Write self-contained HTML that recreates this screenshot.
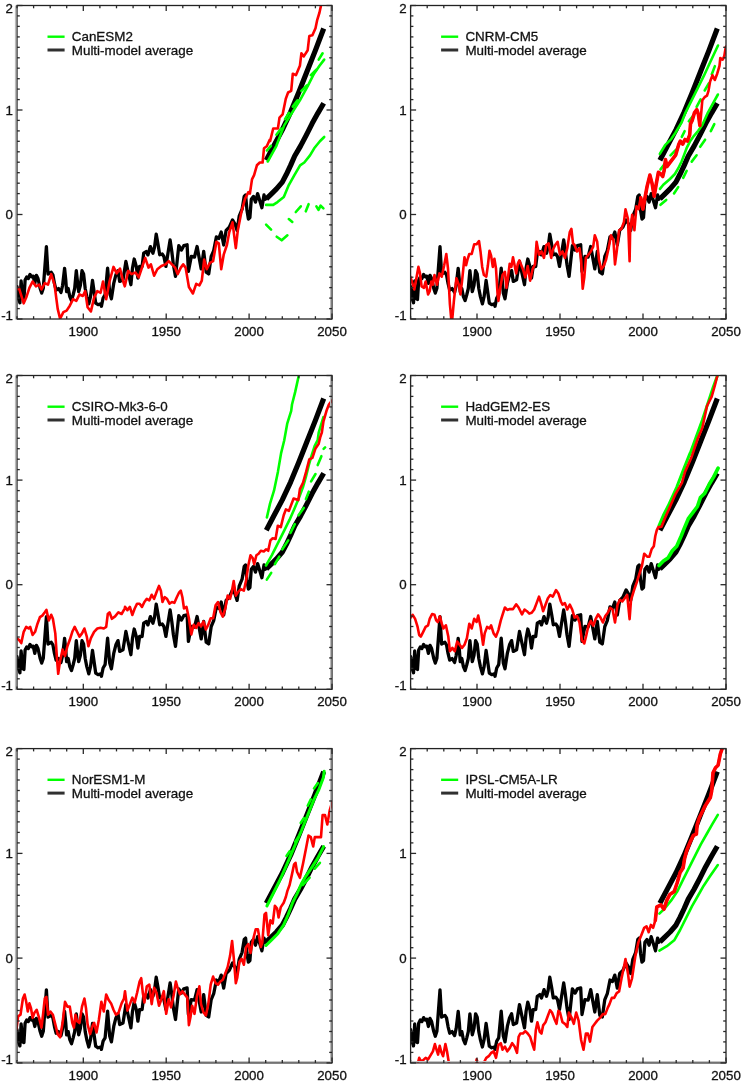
<!DOCTYPE html>
<html><head><meta charset="utf-8"><style>
html,body{margin:0;padding:0;background:#fff;width:742px;height:1084px;overflow:hidden}
svg{display:block;filter:blur(0.45px)}
.t{font-family:"Liberation Sans", sans-serif;font-size:13.3px;fill:#111;stroke:#111;stroke-width:0.3px}
.l{font-family:"Liberation Sans", sans-serif;font-size:13.4px;fill:#111;stroke:#111;stroke-width:0.3px}
</style></head><body>
<svg width="742" height="1084" viewBox="0 0 742 1084">
<rect width="742" height="1084" fill="#fff"/>
<clipPath id="cp0"><rect x="17.0" y="5.5" width="315.0" height="313.5"/></clipPath>
<g clip-path="url(#cp0)">
<polyline points="17.0,286.6 18.6,298.7 19.9,302.8 21.1,280.9 22.7,298.7 23.9,299.5 25.1,280.1 26.7,276.9 28.3,278.5 30.0,274.5 31.6,276.9 33.2,276.1 34.8,283.4 36.4,275.3 38.0,278.5 40.1,288.2 41.7,293.1 43.3,288.2 46.4,246.7 48.0,274.0 51.3,272.3 52.9,274.8 54.5,283.7 56.1,290.1 58.5,288.5 61.0,292.5 62.6,285.3 64.6,268.3 65.8,280.4 66.6,291.7 68.2,288.5 69.8,296.6 71.5,300.6 73.1,295.0 74.7,288.5 76.3,270.7 77.5,282.0 78.7,291.7 80.4,285.3 82.0,270.7 83.6,274.0 85.2,288.5 86.8,296.6 88.8,303.9 90.5,296.6 92.5,280.4 95.7,303.1 98.1,304.7 100.6,303.9 101.4,306.3 103.1,298.0 105.1,294.7 107.6,268.1 109.7,293.0 111.4,298.8 113.8,283.1 115.9,274.8 118.0,270.6 119.7,281.4 123.0,279.8 125.9,261.5 128.0,271.5 130.9,284.7 132.5,268.1 134.2,259.0 136.3,266.5 137.9,278.1 139.6,266.5 142.1,266.5 143.7,253.2 146.2,251.5 147.9,254.9 150.4,246.6 152.9,253.2 154.5,247.4 156.2,234.1 158.1,244.8 159.7,254.8 162.2,254.0 163.9,256.5 165.9,266.4 168.0,253.1 170.1,239.9 171.8,251.5 173.4,264.8 175.5,276.4 177.1,261.4 178.8,245.7 181.5,250.0 183.8,245.7 187.1,244.8 188.4,271.4 191.3,256.5 194.5,257.0 197.1,246.5 201.2,268.9 203.7,251.5 206.2,272.2 208.7,273.9 211.2,256.5 213.7,250.6 216.4,236.9 218.8,238.5 221.2,232.0 223.7,245.0 226.1,230.4 229.3,227.2 232.5,219.9 235.0,224.0 237.1,230.4 239.2,216.2 242.1,209.2 244.2,196.4 245.6,195.0 247.0,210.6 248.4,219.1 249.9,217.6 251.3,199.2 253.4,196.4 255.5,202.1 257.6,193.6 259.8,200.7 261.9,207.7 264.0,195.0 265.4,199.2" fill="none" stroke="#000" stroke-width="3.3" stroke-linejoin="round" stroke-linecap="round"/>
<polyline points="266.3,160.2 274.0,145.5 282.3,129.9 290.6,112.1 298.8,92.2 307.1,71.3 315.4,50.4 323.7,28.5" fill="none" stroke="#000" stroke-width="5.2" stroke-linejoin="round" stroke-linecap="butt"/>
<polyline points="266.3,198.8 270.7,194.6 276.5,188.9 282.3,182.1 286.4,174.3 290.6,165.4 294.7,156.0 300.5,146.1 306.3,135.1 312.1,123.6 317.9,113.1 323.7,103.2" fill="none" stroke="#000" stroke-width="5.2" stroke-linejoin="round" stroke-linecap="butt"/>
<polyline points="266.9,150.5 270.9,145.8" fill="none" stroke="#00ff00" stroke-width="2.6" stroke-linejoin="round" stroke-linecap="round"/>
<polyline points="276.4,134.8 281.1,128.5" fill="none" stroke="#00ff00" stroke-width="2.6" stroke-linejoin="round" stroke-linecap="round"/>
<polyline points="285.0,119.1 288.9,112.9" fill="none" stroke="#00ff00" stroke-width="2.6" stroke-linejoin="round" stroke-linecap="round"/>
<polyline points="292.8,106.6 297.5,100.3" fill="none" stroke="#00ff00" stroke-width="2.6" stroke-linejoin="round" stroke-linecap="round"/>
<polyline points="301.4,90.9 306.9,85.4" fill="none" stroke="#00ff00" stroke-width="2.6" stroke-linejoin="round" stroke-linecap="round"/>
<polyline points="310.8,75.2 316.3,69.8" fill="none" stroke="#00ff00" stroke-width="2.6" stroke-linejoin="round" stroke-linecap="round"/>
<polyline points="318.7,59.6 322.6,53.3" fill="none" stroke="#00ff00" stroke-width="2.6" stroke-linejoin="round" stroke-linecap="round"/>
<polyline points="266.1,224.7 271.1,229.7" fill="none" stroke="#00ff00" stroke-width="2.6" stroke-linejoin="round" stroke-linecap="round"/>
<polyline points="276.7,236.7 281.7,240.3 287.4,235.3" fill="none" stroke="#00ff00" stroke-width="2.6" stroke-linejoin="round" stroke-linecap="round"/>
<polyline points="288.8,219.1 292.3,221.9" fill="none" stroke="#00ff00" stroke-width="2.6" stroke-linejoin="round" stroke-linecap="round"/>
<polyline points="295.8,212.0 300.8,206.3" fill="none" stroke="#00ff00" stroke-width="2.6" stroke-linejoin="round" stroke-linecap="round"/>
<polyline points="305.8,211.3 308.6,204.2" fill="none" stroke="#00ff00" stroke-width="2.6" stroke-linejoin="round" stroke-linecap="round"/>
<polyline points="316.4,206.3 318.5,209.9 320.6,205.6 323.4,208.4" fill="none" stroke="#00ff00" stroke-width="2.6" stroke-linejoin="round" stroke-linecap="round"/>
<polyline points="266.1,204.9 273.2,204.9 277.5,202.1 283.8,197.1 288.8,185.1 294.4,175.2 300.1,165.3 304.3,162.5 310.0,155.4 314.2,148.3 319.9,141.2 324.2,137.0" fill="none" stroke="#00ff00" stroke-width="2.6" stroke-linejoin="round" stroke-linecap="round"/>
<polyline points="267.7,161.5 276.4,145.8 284.2,125.4 292.0,112.9 299.9,100.3 307.7,86.2 314.0,73.7 319.5,65.8 324.2,59.6" fill="none" stroke="#00ff00" stroke-width="2.6" stroke-linejoin="round" stroke-linecap="round"/>
<polyline points="16.5,289.5 18.9,287.9 23.7,303.3 26.2,297.6 29.4,287.9 32.6,281.5 35.9,286.3 39.1,284.7 41.5,289.5 44.8,283.1 48.0,284.7 51.2,274.2 54.5,284.7 57.7,308.9 60.1,318.7 63.4,312.2 66.6,310.6 69.8,305.7 73.1,299.2 76.3,300.9 79.5,294.4 82.8,296.0 85.2,291.2 87.6,307.3 90.9,311.4 94.1,297.6 97.3,291.2 100.6,292.8 103.0,281.5 106.2,299.2 109.5,281.5 113.5,266.9 116.7,273.4 120.0,268.5 123.2,281.5 124.8,286.3 125.0,285.4 128.2,270.9 131.5,274.1 135.5,272.5 138.7,277.3 142.0,267.6 145.2,257.9 148.5,267.6 150.9,264.4 154.1,275.7 157.3,269.2 161.4,266.0 165.4,264.4 168.7,261.2 171.9,264.4 175.1,267.6 177.6,274.1 180.8,267.6 183.2,264.4 185.6,267.6 188.9,287.0 192.9,293.5 196.2,283.8 199.4,285.4 201.8,280.6 204.2,259.5 206.7,269.2 209.9,262.8 213.1,261.2 216.4,241.8 218.8,243.4 221.2,269.2 223.7,254.7 226.9,245.0 229.3,232.0 232.5,222.3 235.8,248.2 237.8,230.4 241.4,212.0 244.9,199.2 248.4,192.2 249.9,193.6 252.0,179.4 254.1,175.2 256.9,165.3 259.8,162.5 262.6,162.5 264.0,148.3 266.8,146.2 269.7,139.8 270.1,141.1 273.2,128.5 277.9,128.5 279.5,117.6 282.6,114.4 285.8,98.8 288.1,92.5 291.2,90.9 292.8,73.7 295.9,75.2 299.9,65.8 301.4,53.3 303.8,56.4 307.7,50.2 309.3,36.1 312.4,35.3 315.5,28.2 317.1,20.4 319.5,12.5 321.0,5.5 321.8,0.0" fill="none" stroke="#ff0000" stroke-width="2.6" stroke-linejoin="round" stroke-linecap="round"/>
</g>
<rect x="17.0" y="5.5" width="315.0" height="313.5" fill="none" stroke="#222" stroke-width="1.3"/>
<line x1="15.6" y1="5.5" x2="15.6" y2="319.6" stroke="#bbb" stroke-width="1.4"/>
<line x1="330.6" y1="5.5" x2="330.6" y2="319.0" stroke="#bbb" stroke-width="1.2"/>
<line x1="17.0" y1="319.0" x2="22.5" y2="319.0" stroke="#282828" stroke-width="1.3"/>
<line x1="332.0" y1="319.0" x2="326.5" y2="319.0" stroke="#282828" stroke-width="1.3"/>
<line x1="17.0" y1="308.6" x2="19.8" y2="308.6" stroke="#282828" stroke-width="1.3"/>
<line x1="332.0" y1="308.6" x2="329.2" y2="308.6" stroke="#282828" stroke-width="1.3"/>
<line x1="17.0" y1="298.1" x2="19.8" y2="298.1" stroke="#282828" stroke-width="1.3"/>
<line x1="332.0" y1="298.1" x2="329.2" y2="298.1" stroke="#282828" stroke-width="1.3"/>
<line x1="17.0" y1="287.6" x2="19.8" y2="287.6" stroke="#282828" stroke-width="1.3"/>
<line x1="332.0" y1="287.6" x2="329.2" y2="287.6" stroke="#282828" stroke-width="1.3"/>
<line x1="17.0" y1="277.2" x2="19.8" y2="277.2" stroke="#282828" stroke-width="1.3"/>
<line x1="332.0" y1="277.2" x2="329.2" y2="277.2" stroke="#282828" stroke-width="1.3"/>
<line x1="17.0" y1="266.8" x2="19.8" y2="266.8" stroke="#282828" stroke-width="1.3"/>
<line x1="332.0" y1="266.8" x2="329.2" y2="266.8" stroke="#282828" stroke-width="1.3"/>
<line x1="17.0" y1="256.3" x2="19.8" y2="256.3" stroke="#282828" stroke-width="1.3"/>
<line x1="332.0" y1="256.3" x2="329.2" y2="256.3" stroke="#282828" stroke-width="1.3"/>
<line x1="17.0" y1="245.8" x2="19.8" y2="245.8" stroke="#282828" stroke-width="1.3"/>
<line x1="332.0" y1="245.8" x2="329.2" y2="245.8" stroke="#282828" stroke-width="1.3"/>
<line x1="17.0" y1="235.4" x2="19.8" y2="235.4" stroke="#282828" stroke-width="1.3"/>
<line x1="332.0" y1="235.4" x2="329.2" y2="235.4" stroke="#282828" stroke-width="1.3"/>
<line x1="17.0" y1="224.9" x2="19.8" y2="224.9" stroke="#282828" stroke-width="1.3"/>
<line x1="332.0" y1="224.9" x2="329.2" y2="224.9" stroke="#282828" stroke-width="1.3"/>
<line x1="17.0" y1="214.5" x2="22.5" y2="214.5" stroke="#282828" stroke-width="1.3"/>
<line x1="332.0" y1="214.5" x2="326.5" y2="214.5" stroke="#282828" stroke-width="1.3"/>
<line x1="17.0" y1="204.1" x2="19.8" y2="204.1" stroke="#282828" stroke-width="1.3"/>
<line x1="332.0" y1="204.1" x2="329.2" y2="204.1" stroke="#282828" stroke-width="1.3"/>
<line x1="17.0" y1="193.6" x2="19.8" y2="193.6" stroke="#282828" stroke-width="1.3"/>
<line x1="332.0" y1="193.6" x2="329.2" y2="193.6" stroke="#282828" stroke-width="1.3"/>
<line x1="17.0" y1="183.2" x2="19.8" y2="183.2" stroke="#282828" stroke-width="1.3"/>
<line x1="332.0" y1="183.2" x2="329.2" y2="183.2" stroke="#282828" stroke-width="1.3"/>
<line x1="17.0" y1="172.7" x2="19.8" y2="172.7" stroke="#282828" stroke-width="1.3"/>
<line x1="332.0" y1="172.7" x2="329.2" y2="172.7" stroke="#282828" stroke-width="1.3"/>
<line x1="17.0" y1="162.2" x2="19.8" y2="162.2" stroke="#282828" stroke-width="1.3"/>
<line x1="332.0" y1="162.2" x2="329.2" y2="162.2" stroke="#282828" stroke-width="1.3"/>
<line x1="17.0" y1="151.8" x2="19.8" y2="151.8" stroke="#282828" stroke-width="1.3"/>
<line x1="332.0" y1="151.8" x2="329.2" y2="151.8" stroke="#282828" stroke-width="1.3"/>
<line x1="17.0" y1="141.3" x2="19.8" y2="141.3" stroke="#282828" stroke-width="1.3"/>
<line x1="332.0" y1="141.3" x2="329.2" y2="141.3" stroke="#282828" stroke-width="1.3"/>
<line x1="17.0" y1="130.9" x2="19.8" y2="130.9" stroke="#282828" stroke-width="1.3"/>
<line x1="332.0" y1="130.9" x2="329.2" y2="130.9" stroke="#282828" stroke-width="1.3"/>
<line x1="17.0" y1="120.4" x2="19.8" y2="120.4" stroke="#282828" stroke-width="1.3"/>
<line x1="332.0" y1="120.4" x2="329.2" y2="120.4" stroke="#282828" stroke-width="1.3"/>
<line x1="17.0" y1="110.0" x2="22.5" y2="110.0" stroke="#282828" stroke-width="1.3"/>
<line x1="332.0" y1="110.0" x2="326.5" y2="110.0" stroke="#282828" stroke-width="1.3"/>
<line x1="17.0" y1="99.6" x2="19.8" y2="99.6" stroke="#282828" stroke-width="1.3"/>
<line x1="332.0" y1="99.6" x2="329.2" y2="99.6" stroke="#282828" stroke-width="1.3"/>
<line x1="17.0" y1="89.1" x2="19.8" y2="89.1" stroke="#282828" stroke-width="1.3"/>
<line x1="332.0" y1="89.1" x2="329.2" y2="89.1" stroke="#282828" stroke-width="1.3"/>
<line x1="17.0" y1="78.7" x2="19.8" y2="78.7" stroke="#282828" stroke-width="1.3"/>
<line x1="332.0" y1="78.7" x2="329.2" y2="78.7" stroke="#282828" stroke-width="1.3"/>
<line x1="17.0" y1="68.2" x2="19.8" y2="68.2" stroke="#282828" stroke-width="1.3"/>
<line x1="332.0" y1="68.2" x2="329.2" y2="68.2" stroke="#282828" stroke-width="1.3"/>
<line x1="17.0" y1="57.8" x2="19.8" y2="57.8" stroke="#282828" stroke-width="1.3"/>
<line x1="332.0" y1="57.8" x2="329.2" y2="57.8" stroke="#282828" stroke-width="1.3"/>
<line x1="17.0" y1="47.3" x2="19.8" y2="47.3" stroke="#282828" stroke-width="1.3"/>
<line x1="332.0" y1="47.3" x2="329.2" y2="47.3" stroke="#282828" stroke-width="1.3"/>
<line x1="17.0" y1="36.9" x2="19.8" y2="36.9" stroke="#282828" stroke-width="1.3"/>
<line x1="332.0" y1="36.9" x2="329.2" y2="36.9" stroke="#282828" stroke-width="1.3"/>
<line x1="17.0" y1="26.4" x2="19.8" y2="26.4" stroke="#282828" stroke-width="1.3"/>
<line x1="332.0" y1="26.4" x2="329.2" y2="26.4" stroke="#282828" stroke-width="1.3"/>
<line x1="17.0" y1="15.9" x2="19.8" y2="15.9" stroke="#282828" stroke-width="1.3"/>
<line x1="332.0" y1="15.9" x2="329.2" y2="15.9" stroke="#282828" stroke-width="1.3"/>
<line x1="17.0" y1="5.5" x2="22.5" y2="5.5" stroke="#282828" stroke-width="1.3"/>
<line x1="332.0" y1="5.5" x2="326.5" y2="5.5" stroke="#282828" stroke-width="1.3"/>
<line x1="17.0" y1="319.0" x2="17.0" y2="316.2" stroke="#282828" stroke-width="1.3"/>
<line x1="17.0" y1="5.5" x2="17.0" y2="8.3" stroke="#282828" stroke-width="1.3"/>
<line x1="33.6" y1="319.0" x2="33.6" y2="316.2" stroke="#282828" stroke-width="1.3"/>
<line x1="33.6" y1="5.5" x2="33.6" y2="8.3" stroke="#282828" stroke-width="1.3"/>
<line x1="50.2" y1="319.0" x2="50.2" y2="316.2" stroke="#282828" stroke-width="1.3"/>
<line x1="50.2" y1="5.5" x2="50.2" y2="8.3" stroke="#282828" stroke-width="1.3"/>
<line x1="66.7" y1="319.0" x2="66.7" y2="316.2" stroke="#282828" stroke-width="1.3"/>
<line x1="66.7" y1="5.5" x2="66.7" y2="8.3" stroke="#282828" stroke-width="1.3"/>
<line x1="83.3" y1="319.0" x2="83.3" y2="313.5" stroke="#282828" stroke-width="1.3"/>
<line x1="83.3" y1="5.5" x2="83.3" y2="11.0" stroke="#282828" stroke-width="1.3"/>
<line x1="99.9" y1="319.0" x2="99.9" y2="316.2" stroke="#282828" stroke-width="1.3"/>
<line x1="99.9" y1="5.5" x2="99.9" y2="8.3" stroke="#282828" stroke-width="1.3"/>
<line x1="116.5" y1="319.0" x2="116.5" y2="316.2" stroke="#282828" stroke-width="1.3"/>
<line x1="116.5" y1="5.5" x2="116.5" y2="8.3" stroke="#282828" stroke-width="1.3"/>
<line x1="133.1" y1="319.0" x2="133.1" y2="316.2" stroke="#282828" stroke-width="1.3"/>
<line x1="133.1" y1="5.5" x2="133.1" y2="8.3" stroke="#282828" stroke-width="1.3"/>
<line x1="149.6" y1="319.0" x2="149.6" y2="316.2" stroke="#282828" stroke-width="1.3"/>
<line x1="149.6" y1="5.5" x2="149.6" y2="8.3" stroke="#282828" stroke-width="1.3"/>
<line x1="166.2" y1="319.0" x2="166.2" y2="313.5" stroke="#282828" stroke-width="1.3"/>
<line x1="166.2" y1="5.5" x2="166.2" y2="11.0" stroke="#282828" stroke-width="1.3"/>
<line x1="182.8" y1="319.0" x2="182.8" y2="316.2" stroke="#282828" stroke-width="1.3"/>
<line x1="182.8" y1="5.5" x2="182.8" y2="8.3" stroke="#282828" stroke-width="1.3"/>
<line x1="199.4" y1="319.0" x2="199.4" y2="316.2" stroke="#282828" stroke-width="1.3"/>
<line x1="199.4" y1="5.5" x2="199.4" y2="8.3" stroke="#282828" stroke-width="1.3"/>
<line x1="215.9" y1="319.0" x2="215.9" y2="316.2" stroke="#282828" stroke-width="1.3"/>
<line x1="215.9" y1="5.5" x2="215.9" y2="8.3" stroke="#282828" stroke-width="1.3"/>
<line x1="232.5" y1="319.0" x2="232.5" y2="316.2" stroke="#282828" stroke-width="1.3"/>
<line x1="232.5" y1="5.5" x2="232.5" y2="8.3" stroke="#282828" stroke-width="1.3"/>
<line x1="249.1" y1="319.0" x2="249.1" y2="313.5" stroke="#282828" stroke-width="1.3"/>
<line x1="249.1" y1="5.5" x2="249.1" y2="11.0" stroke="#282828" stroke-width="1.3"/>
<line x1="265.7" y1="319.0" x2="265.7" y2="316.2" stroke="#282828" stroke-width="1.3"/>
<line x1="265.7" y1="5.5" x2="265.7" y2="8.3" stroke="#282828" stroke-width="1.3"/>
<line x1="282.3" y1="319.0" x2="282.3" y2="316.2" stroke="#282828" stroke-width="1.3"/>
<line x1="282.3" y1="5.5" x2="282.3" y2="8.3" stroke="#282828" stroke-width="1.3"/>
<line x1="298.8" y1="319.0" x2="298.8" y2="316.2" stroke="#282828" stroke-width="1.3"/>
<line x1="298.8" y1="5.5" x2="298.8" y2="8.3" stroke="#282828" stroke-width="1.3"/>
<line x1="315.4" y1="319.0" x2="315.4" y2="316.2" stroke="#282828" stroke-width="1.3"/>
<line x1="315.4" y1="5.5" x2="315.4" y2="8.3" stroke="#282828" stroke-width="1.3"/>
<line x1="332.0" y1="319.0" x2="332.0" y2="313.5" stroke="#282828" stroke-width="1.3"/>
<line x1="332.0" y1="5.5" x2="332.0" y2="11.0" stroke="#282828" stroke-width="1.3"/>
<text x="83.3" y="335.7" text-anchor="middle" class="t">1900</text>
<text x="166.2" y="335.7" text-anchor="middle" class="t">1950</text>
<text x="249.1" y="335.7" text-anchor="middle" class="t">2000</text>
<text x="332.0" y="335.7" text-anchor="middle" class="t">2050</text>
<text x="13.0" y="12.6" text-anchor="end" class="t">2</text>
<text x="13.0" y="114.6" text-anchor="end" class="t">1</text>
<text x="13.0" y="219.1" text-anchor="end" class="t">0</text>
<text x="13.0" y="319.6" text-anchor="end" class="t">-1</text>
<line x1="47.5" y1="36.7" x2="64.6" y2="36.7" stroke="#00ff00" stroke-width="2.4"/>
<line x1="47.5" y1="50.0" x2="64.6" y2="50.0" stroke="#303030" stroke-width="3"/>
<text x="71.8" y="41.2" class="l">CanESM2</text>
<text x="71.8" y="54.7" class="l">Multi-model average</text>
<clipPath id="cp1"><rect x="410.6" y="5.5" width="315.4" height="313.5"/></clipPath>
<g clip-path="url(#cp1)">
<polyline points="410.6,286.6 412.2,298.7 413.5,302.8 414.7,280.9 416.3,298.7 417.5,299.5 418.7,280.1 420.3,276.9 421.9,278.5 423.6,274.5 425.2,276.9 426.8,276.1 428.4,283.4 430.0,275.3 431.6,278.5 433.7,288.2 435.3,293.1 436.9,288.2 440.0,246.7 441.6,274.0 444.9,272.3 446.5,274.8 448.1,283.7 449.7,290.1 452.1,288.5 454.6,292.5 456.2,285.3 458.2,268.3 459.4,280.4 460.2,291.7 461.8,288.5 463.4,296.6 465.1,300.6 466.7,295.0 468.3,288.5 469.9,270.7 471.1,282.0 472.3,291.7 474.0,285.3 475.6,270.7 477.2,274.0 478.8,288.5 480.4,296.6 482.4,303.9 484.1,296.6 486.1,280.4 489.3,303.1 491.7,304.7 494.2,303.9 495.0,306.3 496.7,298.0 498.7,294.7 501.2,268.1 503.3,293.0 505.0,298.8 507.4,283.1 509.5,274.8 511.6,270.6 513.3,281.4 516.6,279.8 519.5,261.5 521.6,271.5 524.5,284.7 526.1,268.1 527.8,259.0 529.9,266.5 531.5,278.1 533.2,266.5 535.7,266.5 537.3,253.2 539.8,251.5 541.5,254.9 544.0,246.6 546.5,253.2 548.1,247.4 549.8,234.1 551.7,244.8 553.3,254.8 555.8,254.0 557.5,256.5 559.5,266.4 561.6,253.1 563.7,239.9 565.4,251.5 567.0,264.8 569.1,276.4 570.7,261.4 572.4,245.7 575.1,250.0 577.4,245.7 580.7,244.8 582.0,271.4 584.9,256.5 588.1,257.0 590.7,246.5 594.8,268.9 597.3,251.5 599.8,272.2 602.3,273.9 604.8,256.5 607.3,250.6 610.0,236.9 612.4,238.5 614.8,232.0 617.3,245.0 619.7,230.4 622.9,227.2 626.1,219.9 628.6,224.0 630.7,230.4 632.8,216.2 635.7,209.2 637.8,196.4 639.2,195.0 640.6,210.6 642.0,219.1 643.5,217.6 644.9,199.2 647.0,196.4 649.1,202.1 651.2,193.6 653.4,200.7 655.5,207.7 657.6,195.0 659.0,199.2" fill="none" stroke="#000" stroke-width="3.3" stroke-linejoin="round" stroke-linecap="round"/>
<polyline points="659.9,160.2 667.6,145.5 675.9,129.9 684.2,112.1 692.4,92.2 700.7,71.3 709.0,50.4 717.3,28.5" fill="none" stroke="#000" stroke-width="5.2" stroke-linejoin="round" stroke-linecap="butt"/>
<polyline points="659.9,198.8 664.3,194.6 670.1,188.9 675.9,182.1 680.0,174.3 684.2,165.4 688.3,156.0 694.1,146.1 699.9,135.1 705.7,123.6 711.5,113.1 717.3,103.2" fill="none" stroke="#000" stroke-width="5.2" stroke-linejoin="round" stroke-linecap="butt"/>
<polyline points="660.5,169.4 664.8,163.8" fill="none" stroke="#00ff00" stroke-width="2.6" stroke-linejoin="round" stroke-linecap="round"/>
<polyline points="670.5,155.3 676.1,149.6" fill="none" stroke="#00ff00" stroke-width="2.6" stroke-linejoin="round" stroke-linecap="round"/>
<polyline points="681.8,136.9 684.6,131.2" fill="none" stroke="#00ff00" stroke-width="2.6" stroke-linejoin="round" stroke-linecap="round"/>
<polyline points="688.8,121.3 693.1,115.7" fill="none" stroke="#00ff00" stroke-width="2.6" stroke-linejoin="round" stroke-linecap="round"/>
<polyline points="696.6,106.9 700.6,99.3" fill="none" stroke="#00ff00" stroke-width="2.6" stroke-linejoin="round" stroke-linecap="round"/>
<polyline points="704.7,90.5 708.8,83.4" fill="none" stroke="#00ff00" stroke-width="2.6" stroke-linejoin="round" stroke-linecap="round"/>
<polyline points="711.8,74.2 714.9,66.1" fill="none" stroke="#00ff00" stroke-width="2.6" stroke-linejoin="round" stroke-linecap="round"/>
<polyline points="660.5,204.8 666.2,199.9" fill="none" stroke="#00ff00" stroke-width="2.6" stroke-linejoin="round" stroke-linecap="round"/>
<polyline points="674.0,193.5 678.2,187.1" fill="none" stroke="#00ff00" stroke-width="2.6" stroke-linejoin="round" stroke-linecap="round"/>
<polyline points="683.2,177.9 686.7,170.8" fill="none" stroke="#00ff00" stroke-width="2.6" stroke-linejoin="round" stroke-linecap="round"/>
<polyline points="691.7,161.6 696.6,155.3" fill="none" stroke="#00ff00" stroke-width="2.6" stroke-linejoin="round" stroke-linecap="round"/>
<polyline points="700.2,146.8 705.1,139.7" fill="none" stroke="#00ff00" stroke-width="2.6" stroke-linejoin="round" stroke-linecap="round"/>
<polyline points="710.8,131.2 714.3,124.2" fill="none" stroke="#00ff00" stroke-width="2.6" stroke-linejoin="round" stroke-linecap="round"/>
<polyline points="660.0,188.9 663.3,184.8 670.0,179.0 674.9,174.0 678.3,168.2 681.6,161.5 684.1,154.9 686.6,148.2 689.9,141.6 694.0,135.8 698.2,130.8 702.3,125.0 707.8,112.8 717.9,94.5" fill="none" stroke="#00ff00" stroke-width="2.6" stroke-linejoin="round" stroke-linecap="round"/>
<polyline points="659.8,153.9 665.1,145.2 671.2,139.1 675.3,133.0 681.4,122.9 685.4,112.8 691.5,100.6 697.6,88.4 703.7,76.2 709.8,63.0 718.0,45.5" fill="none" stroke="#00ff00" stroke-width="2.6" stroke-linejoin="round" stroke-linecap="round"/>
<polyline points="410.3,276.6 411.9,281.5 414.3,289.5 416.7,276.6 418.4,266.9 420.0,273.4 421.6,286.3 424.0,287.9 425.6,281.5 428.1,294.4 429.7,291.2 431.3,281.5 432.9,284.7 434.5,275.0 437.0,284.7 439.4,273.4 441.8,276.6 444.2,265.3 446.3,254.0 448.0,268.5 449.9,304.1 451.2,318.7 452.3,318.7 453.9,300.9 456.4,278.2 458.8,284.7 460.4,294.4 462.0,281.5 464.5,257.2 466.1,265.3 467.7,258.8 469.3,254.0 471.7,254.0 474.2,244.3 476.6,244.3 479.0,241.0 480.6,252.3 482.2,266.9 483.9,275.0 486.3,276.6 487.9,265.3 489.5,250.7 491.1,255.6 492.8,266.9 494.4,258.8 496.0,268.5 497.6,294.4 498.4,300.9 500.0,289.5 502.5,275.0 504.9,271.8 506.5,287.9 508.1,276.6 509.7,263.7 511.4,266.9 513.0,257.2 514.6,265.3 516.2,273.4 517.8,263.7 519.4,260.4 522.9,269.2 525.3,277.3 527.7,266.0 530.1,280.6 532.6,269.2 535.0,264.4 536.6,241.8 539.0,254.7 541.5,251.5 543.9,257.9 546.3,245.0 548.7,243.4 551.2,257.9 552.8,249.8 555.2,245.0 557.6,241.8 560.0,254.7 562.5,251.5 564.9,257.9 567.3,248.2 569.8,232.0 571.4,228.8 573.0,243.4 574.6,245.0 577.0,251.5 579.5,248.2 581.1,259.5 582.7,288.7 584.3,277.3 585.9,257.9 588.4,254.7 590.8,251.5 593.2,246.6 594.8,235.3 597.2,241.8 598.9,259.5 601.3,269.2 603.7,266.0 606.1,259.5 608.6,248.2 611.0,235.3 613.4,240.1 615.0,264.4 616.7,251.5 619.1,230.4 621.5,228.8 623.9,222.3 625.5,209.4 628.0,219.1 629.6,261.2 630.1,233.1 632.2,214.7 634.4,230.3 636.5,206.2 638.6,209.1 640.7,197.7 642.9,209.1 645.0,197.7 647.1,186.4 649.9,175.1 652.1,183.6 654.2,196.3 656.3,183.6 658.4,172.3 660.5,173.7 662.7,176.5 664.1,170.8 665.5,159.5 666.9,166.6 675.6,155.2 678.8,144.2 680.3,141.1 682.7,144.2 685.0,139.5 687.4,141.1 689.7,134.8 690.5,123.8 692.1,120.7 694.4,112.9 696.8,109.7 698.4,114.4 699.9,125.4 700.7,119.1 702.3,100.3 704.6,97.2 707.0,95.6 708.5,90.9 710.1,81.5 712.5,75.2 714.8,80.0 717.2,73.7 719.5,65.8 720.3,58.0 722.7,59.6 724.2,56.4 725.8,47.0 727.4,45.5" fill="none" stroke="#ff0000" stroke-width="2.6" stroke-linejoin="round" stroke-linecap="round"/>
<polyline points="640.7,197.7 642.9,209.1 645.0,197.7 647.1,186.4 649.9,175.1 652.1,183.6 654.2,196.3 656.3,183.6 658.4,172.3 660.5,173.7 662.7,176.5 664.1,170.8 665.5,159.5 666.9,166.6 675.6,155.2 678.8,144.2 680.3,141.1 682.7,144.2 685.0,139.5 687.4,141.1 689.7,134.8 690.5,123.8 692.1,120.7 694.4,112.9 696.8,109.7 698.4,114.4 699.9,125.4" fill="none" stroke="#ff0000" stroke-width="3.6" stroke-linejoin="round" stroke-linecap="round"/>
</g>
<rect x="410.6" y="5.5" width="315.4" height="313.5" fill="none" stroke="#222" stroke-width="1.3"/>
<line x1="410.6" y1="319.0" x2="416.1" y2="319.0" stroke="#282828" stroke-width="1.3"/>
<line x1="726.0" y1="319.0" x2="720.5" y2="319.0" stroke="#282828" stroke-width="1.3"/>
<line x1="410.6" y1="308.6" x2="413.40000000000003" y2="308.6" stroke="#282828" stroke-width="1.3"/>
<line x1="726.0" y1="308.6" x2="723.2" y2="308.6" stroke="#282828" stroke-width="1.3"/>
<line x1="410.6" y1="298.1" x2="413.40000000000003" y2="298.1" stroke="#282828" stroke-width="1.3"/>
<line x1="726.0" y1="298.1" x2="723.2" y2="298.1" stroke="#282828" stroke-width="1.3"/>
<line x1="410.6" y1="287.6" x2="413.40000000000003" y2="287.6" stroke="#282828" stroke-width="1.3"/>
<line x1="726.0" y1="287.6" x2="723.2" y2="287.6" stroke="#282828" stroke-width="1.3"/>
<line x1="410.6" y1="277.2" x2="413.40000000000003" y2="277.2" stroke="#282828" stroke-width="1.3"/>
<line x1="726.0" y1="277.2" x2="723.2" y2="277.2" stroke="#282828" stroke-width="1.3"/>
<line x1="410.6" y1="266.8" x2="413.40000000000003" y2="266.8" stroke="#282828" stroke-width="1.3"/>
<line x1="726.0" y1="266.8" x2="723.2" y2="266.8" stroke="#282828" stroke-width="1.3"/>
<line x1="410.6" y1="256.3" x2="413.40000000000003" y2="256.3" stroke="#282828" stroke-width="1.3"/>
<line x1="726.0" y1="256.3" x2="723.2" y2="256.3" stroke="#282828" stroke-width="1.3"/>
<line x1="410.6" y1="245.8" x2="413.40000000000003" y2="245.8" stroke="#282828" stroke-width="1.3"/>
<line x1="726.0" y1="245.8" x2="723.2" y2="245.8" stroke="#282828" stroke-width="1.3"/>
<line x1="410.6" y1="235.4" x2="413.40000000000003" y2="235.4" stroke="#282828" stroke-width="1.3"/>
<line x1="726.0" y1="235.4" x2="723.2" y2="235.4" stroke="#282828" stroke-width="1.3"/>
<line x1="410.6" y1="224.9" x2="413.40000000000003" y2="224.9" stroke="#282828" stroke-width="1.3"/>
<line x1="726.0" y1="224.9" x2="723.2" y2="224.9" stroke="#282828" stroke-width="1.3"/>
<line x1="410.6" y1="214.5" x2="416.1" y2="214.5" stroke="#282828" stroke-width="1.3"/>
<line x1="726.0" y1="214.5" x2="720.5" y2="214.5" stroke="#282828" stroke-width="1.3"/>
<line x1="410.6" y1="204.1" x2="413.40000000000003" y2="204.1" stroke="#282828" stroke-width="1.3"/>
<line x1="726.0" y1="204.1" x2="723.2" y2="204.1" stroke="#282828" stroke-width="1.3"/>
<line x1="410.6" y1="193.6" x2="413.40000000000003" y2="193.6" stroke="#282828" stroke-width="1.3"/>
<line x1="726.0" y1="193.6" x2="723.2" y2="193.6" stroke="#282828" stroke-width="1.3"/>
<line x1="410.6" y1="183.2" x2="413.40000000000003" y2="183.2" stroke="#282828" stroke-width="1.3"/>
<line x1="726.0" y1="183.2" x2="723.2" y2="183.2" stroke="#282828" stroke-width="1.3"/>
<line x1="410.6" y1="172.7" x2="413.40000000000003" y2="172.7" stroke="#282828" stroke-width="1.3"/>
<line x1="726.0" y1="172.7" x2="723.2" y2="172.7" stroke="#282828" stroke-width="1.3"/>
<line x1="410.6" y1="162.2" x2="413.40000000000003" y2="162.2" stroke="#282828" stroke-width="1.3"/>
<line x1="726.0" y1="162.2" x2="723.2" y2="162.2" stroke="#282828" stroke-width="1.3"/>
<line x1="410.6" y1="151.8" x2="413.40000000000003" y2="151.8" stroke="#282828" stroke-width="1.3"/>
<line x1="726.0" y1="151.8" x2="723.2" y2="151.8" stroke="#282828" stroke-width="1.3"/>
<line x1="410.6" y1="141.3" x2="413.40000000000003" y2="141.3" stroke="#282828" stroke-width="1.3"/>
<line x1="726.0" y1="141.3" x2="723.2" y2="141.3" stroke="#282828" stroke-width="1.3"/>
<line x1="410.6" y1="130.9" x2="413.40000000000003" y2="130.9" stroke="#282828" stroke-width="1.3"/>
<line x1="726.0" y1="130.9" x2="723.2" y2="130.9" stroke="#282828" stroke-width="1.3"/>
<line x1="410.6" y1="120.4" x2="413.40000000000003" y2="120.4" stroke="#282828" stroke-width="1.3"/>
<line x1="726.0" y1="120.4" x2="723.2" y2="120.4" stroke="#282828" stroke-width="1.3"/>
<line x1="410.6" y1="110.0" x2="416.1" y2="110.0" stroke="#282828" stroke-width="1.3"/>
<line x1="726.0" y1="110.0" x2="720.5" y2="110.0" stroke="#282828" stroke-width="1.3"/>
<line x1="410.6" y1="99.6" x2="413.40000000000003" y2="99.6" stroke="#282828" stroke-width="1.3"/>
<line x1="726.0" y1="99.6" x2="723.2" y2="99.6" stroke="#282828" stroke-width="1.3"/>
<line x1="410.6" y1="89.1" x2="413.40000000000003" y2="89.1" stroke="#282828" stroke-width="1.3"/>
<line x1="726.0" y1="89.1" x2="723.2" y2="89.1" stroke="#282828" stroke-width="1.3"/>
<line x1="410.6" y1="78.7" x2="413.40000000000003" y2="78.7" stroke="#282828" stroke-width="1.3"/>
<line x1="726.0" y1="78.7" x2="723.2" y2="78.7" stroke="#282828" stroke-width="1.3"/>
<line x1="410.6" y1="68.2" x2="413.40000000000003" y2="68.2" stroke="#282828" stroke-width="1.3"/>
<line x1="726.0" y1="68.2" x2="723.2" y2="68.2" stroke="#282828" stroke-width="1.3"/>
<line x1="410.6" y1="57.8" x2="413.40000000000003" y2="57.8" stroke="#282828" stroke-width="1.3"/>
<line x1="726.0" y1="57.8" x2="723.2" y2="57.8" stroke="#282828" stroke-width="1.3"/>
<line x1="410.6" y1="47.3" x2="413.40000000000003" y2="47.3" stroke="#282828" stroke-width="1.3"/>
<line x1="726.0" y1="47.3" x2="723.2" y2="47.3" stroke="#282828" stroke-width="1.3"/>
<line x1="410.6" y1="36.9" x2="413.40000000000003" y2="36.9" stroke="#282828" stroke-width="1.3"/>
<line x1="726.0" y1="36.9" x2="723.2" y2="36.9" stroke="#282828" stroke-width="1.3"/>
<line x1="410.6" y1="26.4" x2="413.40000000000003" y2="26.4" stroke="#282828" stroke-width="1.3"/>
<line x1="726.0" y1="26.4" x2="723.2" y2="26.4" stroke="#282828" stroke-width="1.3"/>
<line x1="410.6" y1="15.9" x2="413.40000000000003" y2="15.9" stroke="#282828" stroke-width="1.3"/>
<line x1="726.0" y1="15.9" x2="723.2" y2="15.9" stroke="#282828" stroke-width="1.3"/>
<line x1="410.6" y1="5.5" x2="416.1" y2="5.5" stroke="#282828" stroke-width="1.3"/>
<line x1="726.0" y1="5.5" x2="720.5" y2="5.5" stroke="#282828" stroke-width="1.3"/>
<line x1="410.6" y1="319.0" x2="410.6" y2="316.2" stroke="#282828" stroke-width="1.3"/>
<line x1="410.6" y1="5.5" x2="410.6" y2="8.3" stroke="#282828" stroke-width="1.3"/>
<line x1="427.2" y1="319.0" x2="427.2" y2="316.2" stroke="#282828" stroke-width="1.3"/>
<line x1="427.2" y1="5.5" x2="427.2" y2="8.3" stroke="#282828" stroke-width="1.3"/>
<line x1="443.8" y1="319.0" x2="443.8" y2="316.2" stroke="#282828" stroke-width="1.3"/>
<line x1="443.8" y1="5.5" x2="443.8" y2="8.3" stroke="#282828" stroke-width="1.3"/>
<line x1="460.4" y1="319.0" x2="460.4" y2="316.2" stroke="#282828" stroke-width="1.3"/>
<line x1="460.4" y1="5.5" x2="460.4" y2="8.3" stroke="#282828" stroke-width="1.3"/>
<line x1="477.0" y1="319.0" x2="477.0" y2="313.5" stroke="#282828" stroke-width="1.3"/>
<line x1="477.0" y1="5.5" x2="477.0" y2="11.0" stroke="#282828" stroke-width="1.3"/>
<line x1="493.6" y1="319.0" x2="493.6" y2="316.2" stroke="#282828" stroke-width="1.3"/>
<line x1="493.6" y1="5.5" x2="493.6" y2="8.3" stroke="#282828" stroke-width="1.3"/>
<line x1="510.2" y1="319.0" x2="510.2" y2="316.2" stroke="#282828" stroke-width="1.3"/>
<line x1="510.2" y1="5.5" x2="510.2" y2="8.3" stroke="#282828" stroke-width="1.3"/>
<line x1="526.8" y1="319.0" x2="526.8" y2="316.2" stroke="#282828" stroke-width="1.3"/>
<line x1="526.8" y1="5.5" x2="526.8" y2="8.3" stroke="#282828" stroke-width="1.3"/>
<line x1="543.4" y1="319.0" x2="543.4" y2="316.2" stroke="#282828" stroke-width="1.3"/>
<line x1="543.4" y1="5.5" x2="543.4" y2="8.3" stroke="#282828" stroke-width="1.3"/>
<line x1="560.0" y1="319.0" x2="560.0" y2="313.5" stroke="#282828" stroke-width="1.3"/>
<line x1="560.0" y1="5.5" x2="560.0" y2="11.0" stroke="#282828" stroke-width="1.3"/>
<line x1="576.6" y1="319.0" x2="576.6" y2="316.2" stroke="#282828" stroke-width="1.3"/>
<line x1="576.6" y1="5.5" x2="576.6" y2="8.3" stroke="#282828" stroke-width="1.3"/>
<line x1="593.2" y1="319.0" x2="593.2" y2="316.2" stroke="#282828" stroke-width="1.3"/>
<line x1="593.2" y1="5.5" x2="593.2" y2="8.3" stroke="#282828" stroke-width="1.3"/>
<line x1="609.8" y1="319.0" x2="609.8" y2="316.2" stroke="#282828" stroke-width="1.3"/>
<line x1="609.8" y1="5.5" x2="609.8" y2="8.3" stroke="#282828" stroke-width="1.3"/>
<line x1="626.4" y1="319.0" x2="626.4" y2="316.2" stroke="#282828" stroke-width="1.3"/>
<line x1="626.4" y1="5.5" x2="626.4" y2="8.3" stroke="#282828" stroke-width="1.3"/>
<line x1="643.0" y1="319.0" x2="643.0" y2="313.5" stroke="#282828" stroke-width="1.3"/>
<line x1="643.0" y1="5.5" x2="643.0" y2="11.0" stroke="#282828" stroke-width="1.3"/>
<line x1="659.6" y1="319.0" x2="659.6" y2="316.2" stroke="#282828" stroke-width="1.3"/>
<line x1="659.6" y1="5.5" x2="659.6" y2="8.3" stroke="#282828" stroke-width="1.3"/>
<line x1="676.2" y1="319.0" x2="676.2" y2="316.2" stroke="#282828" stroke-width="1.3"/>
<line x1="676.2" y1="5.5" x2="676.2" y2="8.3" stroke="#282828" stroke-width="1.3"/>
<line x1="692.8" y1="319.0" x2="692.8" y2="316.2" stroke="#282828" stroke-width="1.3"/>
<line x1="692.8" y1="5.5" x2="692.8" y2="8.3" stroke="#282828" stroke-width="1.3"/>
<line x1="709.4" y1="319.0" x2="709.4" y2="316.2" stroke="#282828" stroke-width="1.3"/>
<line x1="709.4" y1="5.5" x2="709.4" y2="8.3" stroke="#282828" stroke-width="1.3"/>
<line x1="726.0" y1="319.0" x2="726.0" y2="313.5" stroke="#282828" stroke-width="1.3"/>
<line x1="726.0" y1="5.5" x2="726.0" y2="11.0" stroke="#282828" stroke-width="1.3"/>
<text x="477.0" y="335.7" text-anchor="middle" class="t">1900</text>
<text x="560.0" y="335.7" text-anchor="middle" class="t">1950</text>
<text x="643.0" y="335.7" text-anchor="middle" class="t">2000</text>
<text x="726.0" y="335.7" text-anchor="middle" class="t">2050</text>
<text x="406.6" y="12.6" text-anchor="end" class="t">2</text>
<text x="406.6" y="114.6" text-anchor="end" class="t">1</text>
<text x="406.6" y="219.1" text-anchor="end" class="t">0</text>
<text x="406.6" y="319.6" text-anchor="end" class="t">-1</text>
<line x1="441.1" y1="36.7" x2="458.20000000000005" y2="36.7" stroke="#00ff00" stroke-width="2.4"/>
<line x1="441.1" y1="50.0" x2="458.20000000000005" y2="50.0" stroke="#303030" stroke-width="3"/>
<text x="465.40000000000003" y="41.2" class="l">CNRM-CM5</text>
<text x="465.40000000000003" y="54.7" class="l">Multi-model average</text>
<clipPath id="cp2"><rect x="17.0" y="375.5" width="315.0" height="313.79999999999995"/></clipPath>
<g clip-path="url(#cp2)">
<polyline points="17.0,656.6 18.6,668.7 19.9,672.8 21.1,650.9 22.7,668.7 23.9,669.5 25.1,650.1 26.7,646.9 28.3,648.5 30.0,644.5 31.6,646.9 33.2,646.1 34.8,653.4 36.4,645.3 38.0,648.5 40.1,658.2 41.7,663.1 43.3,658.2 46.4,616.7 48.0,644.0 51.3,642.3 52.9,644.8 54.5,653.7 56.1,660.1 58.5,658.5 61.0,662.5 62.6,655.3 64.6,638.3 65.8,650.4 66.6,661.7 68.2,658.5 69.8,666.6 71.5,670.6 73.1,665.0 74.7,658.5 76.3,640.7 77.5,652.0 78.7,661.7 80.4,655.3 82.0,640.7 83.6,644.0 85.2,658.5 86.8,666.6 88.8,673.9 90.5,666.6 92.5,650.4 95.7,673.1 98.1,674.7 100.6,673.9 101.4,676.3 103.1,668.0 105.1,664.7 107.6,638.1 109.7,663.0 111.4,668.8 113.8,653.1 115.9,644.8 118.0,640.6 119.7,651.4 123.0,649.8 125.9,631.5 128.0,641.5 130.9,654.7 132.5,638.1 134.2,629.0 136.3,636.5 137.9,648.1 139.6,636.5 142.1,636.5 143.7,623.2 146.2,621.5 147.9,624.9 150.4,616.6 152.9,623.2 154.5,617.4 156.2,604.1 158.1,614.8 159.7,624.8 162.2,624.0 163.9,626.5 165.9,636.4 168.0,623.1 170.1,609.9 171.8,621.5 173.4,634.8 175.5,646.4 177.1,631.4 178.8,615.7 181.5,620.0 183.8,615.7 187.1,614.8 188.4,641.4 191.3,626.5 194.5,627.0 197.1,616.5 201.2,638.9 203.7,621.5 206.2,642.2 208.7,643.9 211.2,626.5 213.7,620.6 216.4,606.9 218.8,608.5 221.2,602.0 223.7,615.0 226.1,600.4 229.3,597.2 232.5,589.9 235.0,594.0 237.1,600.4 239.2,586.2 242.1,579.2 244.2,566.4 245.6,565.0 247.0,580.6 248.4,589.1 249.9,587.6 251.3,569.2 253.4,566.4 255.5,572.1 257.6,563.6 259.8,570.7 261.9,577.7 264.0,565.0 265.4,569.2" fill="none" stroke="#000" stroke-width="3.3" stroke-linejoin="round" stroke-linecap="round"/>
<polyline points="266.3,530.2 274.0,515.5 282.3,499.9 290.6,482.1 298.8,462.2 307.1,441.3 315.4,420.4 323.7,398.5" fill="none" stroke="#000" stroke-width="5.2" stroke-linejoin="round" stroke-linecap="butt"/>
<polyline points="266.3,568.8 270.7,564.6 276.5,558.9 282.3,552.1 286.4,544.3 290.6,535.4 294.7,526.0 300.5,516.1 306.3,505.1 312.1,493.6 317.9,483.1 323.7,473.2" fill="none" stroke="#000" stroke-width="5.2" stroke-linejoin="round" stroke-linecap="butt"/>
<polyline points="266.8,579.6 271.2,572.9" fill="none" stroke="#00ff00" stroke-width="2.6" stroke-linejoin="round" stroke-linecap="round"/>
<polyline points="274.9,564.1 279.3,556.7" fill="none" stroke="#00ff00" stroke-width="2.6" stroke-linejoin="round" stroke-linecap="round"/>
<polyline points="282.3,549.3 288.2,540.4" fill="none" stroke="#00ff00" stroke-width="2.6" stroke-linejoin="round" stroke-linecap="round"/>
<polyline points="290.4,533.0 294.8,524.2" fill="none" stroke="#00ff00" stroke-width="2.6" stroke-linejoin="round" stroke-linecap="round"/>
<polyline points="298.5,515.3 303.7,507.9" fill="none" stroke="#00ff00" stroke-width="2.6" stroke-linejoin="round" stroke-linecap="round"/>
<polyline points="305.9,499.1 308.8,491.7" fill="none" stroke="#00ff00" stroke-width="2.6" stroke-linejoin="round" stroke-linecap="round"/>
<polyline points="311.1,481.4 315.5,474.0" fill="none" stroke="#00ff00" stroke-width="2.6" stroke-linejoin="round" stroke-linecap="round"/>
<polyline points="317.7,465.1 321.4,456.2" fill="none" stroke="#00ff00" stroke-width="2.6" stroke-linejoin="round" stroke-linecap="round"/>
<polyline points="323.6,448.9 325.1,447.4" fill="none" stroke="#00ff00" stroke-width="2.6" stroke-linejoin="round" stroke-linecap="round"/>
<polyline points="266.0,565.5 271.9,555.2 277.8,543.4 283.7,531.6 289.6,519.7 294.1,509.4 298.5,499.1 302.9,487.3 305.9,476.9 308.8,465.1 311.8,454.8 314.7,445.9 317.7,440.0 318.7,432.7 323.4,417.0" fill="none" stroke="#00ff00" stroke-width="2.6" stroke-linejoin="round" stroke-linecap="round"/>
<polyline points="266.9,517.4 270.1,503.3 274.0,490.7 277.9,471.9 281.1,453.1 284.2,440.5 287.3,423.3 291.2,410.8 292.0,404.5 295.2,391.9 298.3,377.8 299.9,370.0" fill="none" stroke="#00ff00" stroke-width="2.6" stroke-linejoin="round" stroke-linecap="round"/>
<polyline points="16.5,638.2 18.9,639.8 21.3,643.1 23.7,631.8 26.2,626.9 28.6,628.5 30.2,626.9 32.6,635.0 35.1,631.8 37.5,623.7 39.9,617.2 42.3,615.6 44.8,612.3 46.4,609.9 48.8,620.4 51.2,614.8 52.9,618.8 55.3,633.4 56.9,657.6 58.2,673.8 60.1,660.9 62.6,649.5 65.0,656.0 67.4,646.3 69.8,639.8 72.3,631.8 74.7,626.9 77.1,631.8 79.5,636.6 82.0,633.4 84.4,628.5 86.8,636.6 88.4,646.3 90.9,638.2 94.1,631.8 97.3,628.5 100.6,627.7 103.8,628.5 106.2,626.9 107.8,614.0 109.5,612.3 111.9,618.8 115.1,616.4 118.4,612.3 121.6,614.0 124.8,608.3 125.0,606.9 127.4,610.1 129.9,606.9 132.3,615.0 134.7,608.5 137.1,603.7 139.6,603.7 142.0,606.9 144.4,602.0 146.8,598.8 149.3,600.4 151.7,594.8 154.1,598.8 156.5,592.3 159.0,585.9 160.9,590.7 162.5,602.0 164.6,597.2 167.0,598.8 169.5,603.7 171.9,602.0 174.3,602.9 176.8,597.2 179.2,592.3 180.8,590.7 182.4,597.2 184.0,608.5 186.5,606.9 188.9,618.2 191.3,634.4 193.7,624.7 196.2,627.9 198.6,623.1 201.0,626.3 203.4,621.5 205.9,629.5 208.3,624.7 210.7,618.2 213.1,618.2 215.6,605.3 218.0,602.0 220.4,611.8 222.8,616.6 225.3,608.5 227.7,595.6 230.1,598.8 231.7,592.3 233.7,581.0 235.8,595.6 238.0,592.1 240.9,589.2 243.9,590.6 246.1,580.3 248.3,565.5 250.5,555.2 252.7,558.1 254.2,564.1 256.4,555.2 258.6,553.7 260.8,550.8 263.8,551.5 266.0,549.3 268.2,550.8 270.4,540.4 272.7,538.2 275.6,538.9 277.8,525.7 280.8,527.1 283.7,515.3 285.9,509.4 288.9,510.9 293.6,498.5 298.3,500.1 299.9,489.1 303.0,482.9 306.1,471.9 309.3,459.4 312.4,457.8 315.5,448.4 318.7,443.7 320.2,437.4 321.8,432.7 323.4,421.7 326.5,410.8 328.9,404.5 331.2,401.4 332.8,399.8" fill="none" stroke="#ff0000" stroke-width="2.6" stroke-linejoin="round" stroke-linecap="round"/>
</g>
<rect x="17.0" y="375.5" width="315.0" height="313.79999999999995" fill="none" stroke="#222" stroke-width="1.3"/>
<line x1="15.6" y1="375.5" x2="15.6" y2="689.9" stroke="#bbb" stroke-width="1.4"/>
<line x1="330.6" y1="375.5" x2="330.6" y2="689.3" stroke="#bbb" stroke-width="1.2"/>
<line x1="17.0" y1="689.3" x2="22.5" y2="689.3" stroke="#282828" stroke-width="1.3"/>
<line x1="332.0" y1="689.3" x2="326.5" y2="689.3" stroke="#282828" stroke-width="1.3"/>
<line x1="17.0" y1="678.8" x2="19.8" y2="678.8" stroke="#282828" stroke-width="1.3"/>
<line x1="332.0" y1="678.8" x2="329.2" y2="678.8" stroke="#282828" stroke-width="1.3"/>
<line x1="17.0" y1="668.4" x2="19.8" y2="668.4" stroke="#282828" stroke-width="1.3"/>
<line x1="332.0" y1="668.4" x2="329.2" y2="668.4" stroke="#282828" stroke-width="1.3"/>
<line x1="17.0" y1="657.9" x2="19.8" y2="657.9" stroke="#282828" stroke-width="1.3"/>
<line x1="332.0" y1="657.9" x2="329.2" y2="657.9" stroke="#282828" stroke-width="1.3"/>
<line x1="17.0" y1="647.5" x2="19.8" y2="647.5" stroke="#282828" stroke-width="1.3"/>
<line x1="332.0" y1="647.5" x2="329.2" y2="647.5" stroke="#282828" stroke-width="1.3"/>
<line x1="17.0" y1="637.0" x2="19.8" y2="637.0" stroke="#282828" stroke-width="1.3"/>
<line x1="332.0" y1="637.0" x2="329.2" y2="637.0" stroke="#282828" stroke-width="1.3"/>
<line x1="17.0" y1="626.5" x2="19.8" y2="626.5" stroke="#282828" stroke-width="1.3"/>
<line x1="332.0" y1="626.5" x2="329.2" y2="626.5" stroke="#282828" stroke-width="1.3"/>
<line x1="17.0" y1="616.1" x2="19.8" y2="616.1" stroke="#282828" stroke-width="1.3"/>
<line x1="332.0" y1="616.1" x2="329.2" y2="616.1" stroke="#282828" stroke-width="1.3"/>
<line x1="17.0" y1="605.6" x2="19.8" y2="605.6" stroke="#282828" stroke-width="1.3"/>
<line x1="332.0" y1="605.6" x2="329.2" y2="605.6" stroke="#282828" stroke-width="1.3"/>
<line x1="17.0" y1="595.2" x2="19.8" y2="595.2" stroke="#282828" stroke-width="1.3"/>
<line x1="332.0" y1="595.2" x2="329.2" y2="595.2" stroke="#282828" stroke-width="1.3"/>
<line x1="17.0" y1="584.7" x2="22.5" y2="584.7" stroke="#282828" stroke-width="1.3"/>
<line x1="332.0" y1="584.7" x2="326.5" y2="584.7" stroke="#282828" stroke-width="1.3"/>
<line x1="17.0" y1="574.2" x2="19.8" y2="574.2" stroke="#282828" stroke-width="1.3"/>
<line x1="332.0" y1="574.2" x2="329.2" y2="574.2" stroke="#282828" stroke-width="1.3"/>
<line x1="17.0" y1="563.8" x2="19.8" y2="563.8" stroke="#282828" stroke-width="1.3"/>
<line x1="332.0" y1="563.8" x2="329.2" y2="563.8" stroke="#282828" stroke-width="1.3"/>
<line x1="17.0" y1="553.3" x2="19.8" y2="553.3" stroke="#282828" stroke-width="1.3"/>
<line x1="332.0" y1="553.3" x2="329.2" y2="553.3" stroke="#282828" stroke-width="1.3"/>
<line x1="17.0" y1="542.9" x2="19.8" y2="542.9" stroke="#282828" stroke-width="1.3"/>
<line x1="332.0" y1="542.9" x2="329.2" y2="542.9" stroke="#282828" stroke-width="1.3"/>
<line x1="17.0" y1="532.4" x2="19.8" y2="532.4" stroke="#282828" stroke-width="1.3"/>
<line x1="332.0" y1="532.4" x2="329.2" y2="532.4" stroke="#282828" stroke-width="1.3"/>
<line x1="17.0" y1="521.9" x2="19.8" y2="521.9" stroke="#282828" stroke-width="1.3"/>
<line x1="332.0" y1="521.9" x2="329.2" y2="521.9" stroke="#282828" stroke-width="1.3"/>
<line x1="17.0" y1="511.5" x2="19.8" y2="511.5" stroke="#282828" stroke-width="1.3"/>
<line x1="332.0" y1="511.5" x2="329.2" y2="511.5" stroke="#282828" stroke-width="1.3"/>
<line x1="17.0" y1="501.0" x2="19.8" y2="501.0" stroke="#282828" stroke-width="1.3"/>
<line x1="332.0" y1="501.0" x2="329.2" y2="501.0" stroke="#282828" stroke-width="1.3"/>
<line x1="17.0" y1="490.6" x2="19.8" y2="490.6" stroke="#282828" stroke-width="1.3"/>
<line x1="332.0" y1="490.6" x2="329.2" y2="490.6" stroke="#282828" stroke-width="1.3"/>
<line x1="17.0" y1="480.1" x2="22.5" y2="480.1" stroke="#282828" stroke-width="1.3"/>
<line x1="332.0" y1="480.1" x2="326.5" y2="480.1" stroke="#282828" stroke-width="1.3"/>
<line x1="17.0" y1="469.6" x2="19.8" y2="469.6" stroke="#282828" stroke-width="1.3"/>
<line x1="332.0" y1="469.6" x2="329.2" y2="469.6" stroke="#282828" stroke-width="1.3"/>
<line x1="17.0" y1="459.2" x2="19.8" y2="459.2" stroke="#282828" stroke-width="1.3"/>
<line x1="332.0" y1="459.2" x2="329.2" y2="459.2" stroke="#282828" stroke-width="1.3"/>
<line x1="17.0" y1="448.7" x2="19.8" y2="448.7" stroke="#282828" stroke-width="1.3"/>
<line x1="332.0" y1="448.7" x2="329.2" y2="448.7" stroke="#282828" stroke-width="1.3"/>
<line x1="17.0" y1="438.3" x2="19.8" y2="438.3" stroke="#282828" stroke-width="1.3"/>
<line x1="332.0" y1="438.3" x2="329.2" y2="438.3" stroke="#282828" stroke-width="1.3"/>
<line x1="17.0" y1="427.8" x2="19.8" y2="427.8" stroke="#282828" stroke-width="1.3"/>
<line x1="332.0" y1="427.8" x2="329.2" y2="427.8" stroke="#282828" stroke-width="1.3"/>
<line x1="17.0" y1="417.3" x2="19.8" y2="417.3" stroke="#282828" stroke-width="1.3"/>
<line x1="332.0" y1="417.3" x2="329.2" y2="417.3" stroke="#282828" stroke-width="1.3"/>
<line x1="17.0" y1="406.9" x2="19.8" y2="406.9" stroke="#282828" stroke-width="1.3"/>
<line x1="332.0" y1="406.9" x2="329.2" y2="406.9" stroke="#282828" stroke-width="1.3"/>
<line x1="17.0" y1="396.4" x2="19.8" y2="396.4" stroke="#282828" stroke-width="1.3"/>
<line x1="332.0" y1="396.4" x2="329.2" y2="396.4" stroke="#282828" stroke-width="1.3"/>
<line x1="17.0" y1="386.0" x2="19.8" y2="386.0" stroke="#282828" stroke-width="1.3"/>
<line x1="332.0" y1="386.0" x2="329.2" y2="386.0" stroke="#282828" stroke-width="1.3"/>
<line x1="17.0" y1="375.5" x2="22.5" y2="375.5" stroke="#282828" stroke-width="1.3"/>
<line x1="332.0" y1="375.5" x2="326.5" y2="375.5" stroke="#282828" stroke-width="1.3"/>
<line x1="17.0" y1="689.3" x2="17.0" y2="686.5" stroke="#282828" stroke-width="1.3"/>
<line x1="17.0" y1="375.5" x2="17.0" y2="378.3" stroke="#282828" stroke-width="1.3"/>
<line x1="33.6" y1="689.3" x2="33.6" y2="686.5" stroke="#282828" stroke-width="1.3"/>
<line x1="33.6" y1="375.5" x2="33.6" y2="378.3" stroke="#282828" stroke-width="1.3"/>
<line x1="50.2" y1="689.3" x2="50.2" y2="686.5" stroke="#282828" stroke-width="1.3"/>
<line x1="50.2" y1="375.5" x2="50.2" y2="378.3" stroke="#282828" stroke-width="1.3"/>
<line x1="66.7" y1="689.3" x2="66.7" y2="686.5" stroke="#282828" stroke-width="1.3"/>
<line x1="66.7" y1="375.5" x2="66.7" y2="378.3" stroke="#282828" stroke-width="1.3"/>
<line x1="83.3" y1="689.3" x2="83.3" y2="683.8" stroke="#282828" stroke-width="1.3"/>
<line x1="83.3" y1="375.5" x2="83.3" y2="381.0" stroke="#282828" stroke-width="1.3"/>
<line x1="99.9" y1="689.3" x2="99.9" y2="686.5" stroke="#282828" stroke-width="1.3"/>
<line x1="99.9" y1="375.5" x2="99.9" y2="378.3" stroke="#282828" stroke-width="1.3"/>
<line x1="116.5" y1="689.3" x2="116.5" y2="686.5" stroke="#282828" stroke-width="1.3"/>
<line x1="116.5" y1="375.5" x2="116.5" y2="378.3" stroke="#282828" stroke-width="1.3"/>
<line x1="133.1" y1="689.3" x2="133.1" y2="686.5" stroke="#282828" stroke-width="1.3"/>
<line x1="133.1" y1="375.5" x2="133.1" y2="378.3" stroke="#282828" stroke-width="1.3"/>
<line x1="149.6" y1="689.3" x2="149.6" y2="686.5" stroke="#282828" stroke-width="1.3"/>
<line x1="149.6" y1="375.5" x2="149.6" y2="378.3" stroke="#282828" stroke-width="1.3"/>
<line x1="166.2" y1="689.3" x2="166.2" y2="683.8" stroke="#282828" stroke-width="1.3"/>
<line x1="166.2" y1="375.5" x2="166.2" y2="381.0" stroke="#282828" stroke-width="1.3"/>
<line x1="182.8" y1="689.3" x2="182.8" y2="686.5" stroke="#282828" stroke-width="1.3"/>
<line x1="182.8" y1="375.5" x2="182.8" y2="378.3" stroke="#282828" stroke-width="1.3"/>
<line x1="199.4" y1="689.3" x2="199.4" y2="686.5" stroke="#282828" stroke-width="1.3"/>
<line x1="199.4" y1="375.5" x2="199.4" y2="378.3" stroke="#282828" stroke-width="1.3"/>
<line x1="215.9" y1="689.3" x2="215.9" y2="686.5" stroke="#282828" stroke-width="1.3"/>
<line x1="215.9" y1="375.5" x2="215.9" y2="378.3" stroke="#282828" stroke-width="1.3"/>
<line x1="232.5" y1="689.3" x2="232.5" y2="686.5" stroke="#282828" stroke-width="1.3"/>
<line x1="232.5" y1="375.5" x2="232.5" y2="378.3" stroke="#282828" stroke-width="1.3"/>
<line x1="249.1" y1="689.3" x2="249.1" y2="683.8" stroke="#282828" stroke-width="1.3"/>
<line x1="249.1" y1="375.5" x2="249.1" y2="381.0" stroke="#282828" stroke-width="1.3"/>
<line x1="265.7" y1="689.3" x2="265.7" y2="686.5" stroke="#282828" stroke-width="1.3"/>
<line x1="265.7" y1="375.5" x2="265.7" y2="378.3" stroke="#282828" stroke-width="1.3"/>
<line x1="282.3" y1="689.3" x2="282.3" y2="686.5" stroke="#282828" stroke-width="1.3"/>
<line x1="282.3" y1="375.5" x2="282.3" y2="378.3" stroke="#282828" stroke-width="1.3"/>
<line x1="298.8" y1="689.3" x2="298.8" y2="686.5" stroke="#282828" stroke-width="1.3"/>
<line x1="298.8" y1="375.5" x2="298.8" y2="378.3" stroke="#282828" stroke-width="1.3"/>
<line x1="315.4" y1="689.3" x2="315.4" y2="686.5" stroke="#282828" stroke-width="1.3"/>
<line x1="315.4" y1="375.5" x2="315.4" y2="378.3" stroke="#282828" stroke-width="1.3"/>
<line x1="332.0" y1="689.3" x2="332.0" y2="683.8" stroke="#282828" stroke-width="1.3"/>
<line x1="332.0" y1="375.5" x2="332.0" y2="381.0" stroke="#282828" stroke-width="1.3"/>
<text x="83.3" y="706.0" text-anchor="middle" class="t">1900</text>
<text x="166.2" y="706.0" text-anchor="middle" class="t">1950</text>
<text x="249.1" y="706.0" text-anchor="middle" class="t">2000</text>
<text x="332.0" y="706.0" text-anchor="middle" class="t">2050</text>
<text x="13.0" y="382.6" text-anchor="end" class="t">2</text>
<text x="13.0" y="484.7" text-anchor="end" class="t">1</text>
<text x="13.0" y="589.3" text-anchor="end" class="t">0</text>
<text x="13.0" y="689.9" text-anchor="end" class="t">-1</text>
<line x1="47.5" y1="406.7" x2="64.6" y2="406.7" stroke="#00ff00" stroke-width="2.4"/>
<line x1="47.5" y1="420.0" x2="64.6" y2="420.0" stroke="#303030" stroke-width="3"/>
<text x="71.8" y="411.2" class="l">CSIRO-Mk3-6-0</text>
<text x="71.8" y="424.7" class="l">Multi-model average</text>
<clipPath id="cp3"><rect x="410.6" y="375.5" width="315.4" height="313.79999999999995"/></clipPath>
<g clip-path="url(#cp3)">
<polyline points="410.6,656.6 412.2,668.7 413.5,672.8 414.7,650.9 416.3,668.7 417.5,669.5 418.7,650.1 420.3,646.9 421.9,648.5 423.6,644.5 425.2,646.9 426.8,646.1 428.4,653.4 430.0,645.3 431.6,648.5 433.7,658.2 435.3,663.1 436.9,658.2 440.0,616.7 441.6,644.0 444.9,642.3 446.5,644.8 448.1,653.7 449.7,660.1 452.1,658.5 454.6,662.5 456.2,655.3 458.2,638.3 459.4,650.4 460.2,661.7 461.8,658.5 463.4,666.6 465.1,670.6 466.7,665.0 468.3,658.5 469.9,640.7 471.1,652.0 472.3,661.7 474.0,655.3 475.6,640.7 477.2,644.0 478.8,658.5 480.4,666.6 482.4,673.9 484.1,666.6 486.1,650.4 489.3,673.1 491.7,674.7 494.2,673.9 495.0,676.3 496.7,668.0 498.7,664.7 501.2,638.1 503.3,663.0 505.0,668.8 507.4,653.1 509.5,644.8 511.6,640.6 513.3,651.4 516.6,649.8 519.5,631.5 521.6,641.5 524.5,654.7 526.1,638.1 527.8,629.0 529.9,636.5 531.5,648.1 533.2,636.5 535.7,636.5 537.3,623.2 539.8,621.5 541.5,624.9 544.0,616.6 546.5,623.2 548.1,617.4 549.8,604.1 551.7,614.8 553.3,624.8 555.8,624.0 557.5,626.5 559.5,636.4 561.6,623.1 563.7,609.9 565.4,621.5 567.0,634.8 569.1,646.4 570.7,631.4 572.4,615.7 575.1,620.0 577.4,615.7 580.7,614.8 582.0,641.4 584.9,626.5 588.1,627.0 590.7,616.5 594.8,638.9 597.3,621.5 599.8,642.2 602.3,643.9 604.8,626.5 607.3,620.6 610.0,606.9 612.4,608.5 614.8,602.0 617.3,615.0 619.7,600.4 622.9,597.2 626.1,589.9 628.6,594.0 630.7,600.4 632.8,586.2 635.7,579.2 637.8,566.4 639.2,565.0 640.6,580.6 642.0,589.1 643.5,587.6 644.9,569.2 647.0,566.4 649.1,572.1 651.2,563.6 653.4,570.7 655.5,577.7 657.6,565.0 659.0,569.2" fill="none" stroke="#000" stroke-width="3.3" stroke-linejoin="round" stroke-linecap="round"/>
<polyline points="659.9,530.2 667.6,515.5 675.9,499.9 684.2,482.1 692.4,462.2 700.7,441.3 709.0,420.4 717.3,398.5" fill="none" stroke="#000" stroke-width="5.2" stroke-linejoin="round" stroke-linecap="butt"/>
<polyline points="659.9,568.8 664.3,564.6 670.1,558.9 675.9,552.1 680.0,544.3 684.2,535.4 688.3,526.0 694.1,516.1 699.9,505.1 705.7,493.6 711.5,483.1 717.3,473.2" fill="none" stroke="#000" stroke-width="5.2" stroke-linejoin="round" stroke-linecap="butt"/>
<polyline points="659.0,565.5 663.4,561.1 667.9,558.1 672.3,550.8 676.7,546.3 681.2,536.0 684.1,528.6 688.5,518.3 693.0,512.4 697.4,506.5 700.4,497.6 704.8,493.2 709.2,484.3 713.7,476.9 718.1,468.1" fill="none" stroke="#00ff00" stroke-width="3.6" stroke-linejoin="round" stroke-linecap="round"/>
<polyline points="659.0,525.7 663.4,515.3 667.9,506.5 676.7,487.3 684.1,468.1 690.0,453.3 689.7,454.7 696.0,437.4 702.3,420.2 708.5,401.4 713.2,387.2 717.2,376.3 718.7,371.6" fill="none" stroke="#00ff00" stroke-width="3.0" stroke-linejoin="round" stroke-linecap="round"/>
<polyline points="410.3,618.0 412.7,614.8 415.1,618.8 417.6,626.9 419.2,635.0 420.8,636.6 423.2,631.8 425.6,626.9 428.1,625.3 429.7,618.8 432.1,614.0 434.5,614.8 436.2,620.4 437.8,622.0 439.9,616.4 441.8,623.7 443.4,628.5 445.9,625.3 448.3,636.6 449.9,651.2 452.3,647.9 454.8,651.2 457.2,641.5 459.6,644.7 462.0,647.9 464.5,644.7 466.9,638.2 469.3,623.7 471.7,628.5 474.2,618.8 476.6,622.0 478.2,615.6 480.6,626.9 483.1,644.7 484.7,633.4 487.1,626.9 489.5,628.5 491.1,625.3 493.6,633.4 496.0,636.6 498.4,630.1 500.8,620.4 503.3,612.3 504.9,607.5 507.3,609.9 509.7,609.1 513.0,609.1 516.2,604.3 518.6,607.5 522.0,614.4 524.5,609.5 526.9,611.2 529.3,613.6 531.7,612.8 534.2,609.5 536.6,603.1 539.0,596.6 541.5,604.7 543.1,611.2 545.5,604.7 547.9,598.2 550.3,595.0 552.8,596.6 556.0,590.1 558.4,593.4 560.9,601.5 562.5,604.7 564.9,603.1 567.3,609.5 569.8,604.7 572.2,609.5 574.6,617.6 577.0,616.0 579.5,622.5 581.9,640.3 584.3,643.5 585.9,637.0 588.4,625.7 590.8,620.9 593.2,625.7 595.6,619.2 598.1,614.4 600.5,617.6 602.9,622.5 605.3,616.0 607.8,612.8 610.2,607.9 612.6,609.5 615.0,622.5 617.5,604.7 619.9,599.8 622.3,601.5 624.7,598.2 627.2,595.0 629.6,619.2 631.0,600.1 633.9,590.6 636.9,581.8 642.0,565.5 644.2,553.7 647.2,556.7 649.4,556.7 651.6,549.3 653.8,546.3 655.3,536.0 656.8,530.1 658.3,527.1 661.5,526.8 664.6,519.0 669.4,508.0 675.6,493.8 681.9,482.9 685.0,471.9 691.3,457.8 697.6,439.0 702.3,428.0 707.0,406.0 711.7,396.6 714.8,385.7 717.2,376.3 718.5,370.0" fill="none" stroke="#ff0000" stroke-width="2.6" stroke-linejoin="round" stroke-linecap="round"/>
</g>
<rect x="410.6" y="375.5" width="315.4" height="313.79999999999995" fill="none" stroke="#222" stroke-width="1.3"/>
<line x1="410.6" y1="689.3" x2="416.1" y2="689.3" stroke="#282828" stroke-width="1.3"/>
<line x1="726.0" y1="689.3" x2="720.5" y2="689.3" stroke="#282828" stroke-width="1.3"/>
<line x1="410.6" y1="678.8" x2="413.40000000000003" y2="678.8" stroke="#282828" stroke-width="1.3"/>
<line x1="726.0" y1="678.8" x2="723.2" y2="678.8" stroke="#282828" stroke-width="1.3"/>
<line x1="410.6" y1="668.4" x2="413.40000000000003" y2="668.4" stroke="#282828" stroke-width="1.3"/>
<line x1="726.0" y1="668.4" x2="723.2" y2="668.4" stroke="#282828" stroke-width="1.3"/>
<line x1="410.6" y1="657.9" x2="413.40000000000003" y2="657.9" stroke="#282828" stroke-width="1.3"/>
<line x1="726.0" y1="657.9" x2="723.2" y2="657.9" stroke="#282828" stroke-width="1.3"/>
<line x1="410.6" y1="647.5" x2="413.40000000000003" y2="647.5" stroke="#282828" stroke-width="1.3"/>
<line x1="726.0" y1="647.5" x2="723.2" y2="647.5" stroke="#282828" stroke-width="1.3"/>
<line x1="410.6" y1="637.0" x2="413.40000000000003" y2="637.0" stroke="#282828" stroke-width="1.3"/>
<line x1="726.0" y1="637.0" x2="723.2" y2="637.0" stroke="#282828" stroke-width="1.3"/>
<line x1="410.6" y1="626.5" x2="413.40000000000003" y2="626.5" stroke="#282828" stroke-width="1.3"/>
<line x1="726.0" y1="626.5" x2="723.2" y2="626.5" stroke="#282828" stroke-width="1.3"/>
<line x1="410.6" y1="616.1" x2="413.40000000000003" y2="616.1" stroke="#282828" stroke-width="1.3"/>
<line x1="726.0" y1="616.1" x2="723.2" y2="616.1" stroke="#282828" stroke-width="1.3"/>
<line x1="410.6" y1="605.6" x2="413.40000000000003" y2="605.6" stroke="#282828" stroke-width="1.3"/>
<line x1="726.0" y1="605.6" x2="723.2" y2="605.6" stroke="#282828" stroke-width="1.3"/>
<line x1="410.6" y1="595.2" x2="413.40000000000003" y2="595.2" stroke="#282828" stroke-width="1.3"/>
<line x1="726.0" y1="595.2" x2="723.2" y2="595.2" stroke="#282828" stroke-width="1.3"/>
<line x1="410.6" y1="584.7" x2="416.1" y2="584.7" stroke="#282828" stroke-width="1.3"/>
<line x1="726.0" y1="584.7" x2="720.5" y2="584.7" stroke="#282828" stroke-width="1.3"/>
<line x1="410.6" y1="574.2" x2="413.40000000000003" y2="574.2" stroke="#282828" stroke-width="1.3"/>
<line x1="726.0" y1="574.2" x2="723.2" y2="574.2" stroke="#282828" stroke-width="1.3"/>
<line x1="410.6" y1="563.8" x2="413.40000000000003" y2="563.8" stroke="#282828" stroke-width="1.3"/>
<line x1="726.0" y1="563.8" x2="723.2" y2="563.8" stroke="#282828" stroke-width="1.3"/>
<line x1="410.6" y1="553.3" x2="413.40000000000003" y2="553.3" stroke="#282828" stroke-width="1.3"/>
<line x1="726.0" y1="553.3" x2="723.2" y2="553.3" stroke="#282828" stroke-width="1.3"/>
<line x1="410.6" y1="542.9" x2="413.40000000000003" y2="542.9" stroke="#282828" stroke-width="1.3"/>
<line x1="726.0" y1="542.9" x2="723.2" y2="542.9" stroke="#282828" stroke-width="1.3"/>
<line x1="410.6" y1="532.4" x2="413.40000000000003" y2="532.4" stroke="#282828" stroke-width="1.3"/>
<line x1="726.0" y1="532.4" x2="723.2" y2="532.4" stroke="#282828" stroke-width="1.3"/>
<line x1="410.6" y1="521.9" x2="413.40000000000003" y2="521.9" stroke="#282828" stroke-width="1.3"/>
<line x1="726.0" y1="521.9" x2="723.2" y2="521.9" stroke="#282828" stroke-width="1.3"/>
<line x1="410.6" y1="511.5" x2="413.40000000000003" y2="511.5" stroke="#282828" stroke-width="1.3"/>
<line x1="726.0" y1="511.5" x2="723.2" y2="511.5" stroke="#282828" stroke-width="1.3"/>
<line x1="410.6" y1="501.0" x2="413.40000000000003" y2="501.0" stroke="#282828" stroke-width="1.3"/>
<line x1="726.0" y1="501.0" x2="723.2" y2="501.0" stroke="#282828" stroke-width="1.3"/>
<line x1="410.6" y1="490.6" x2="413.40000000000003" y2="490.6" stroke="#282828" stroke-width="1.3"/>
<line x1="726.0" y1="490.6" x2="723.2" y2="490.6" stroke="#282828" stroke-width="1.3"/>
<line x1="410.6" y1="480.1" x2="416.1" y2="480.1" stroke="#282828" stroke-width="1.3"/>
<line x1="726.0" y1="480.1" x2="720.5" y2="480.1" stroke="#282828" stroke-width="1.3"/>
<line x1="410.6" y1="469.6" x2="413.40000000000003" y2="469.6" stroke="#282828" stroke-width="1.3"/>
<line x1="726.0" y1="469.6" x2="723.2" y2="469.6" stroke="#282828" stroke-width="1.3"/>
<line x1="410.6" y1="459.2" x2="413.40000000000003" y2="459.2" stroke="#282828" stroke-width="1.3"/>
<line x1="726.0" y1="459.2" x2="723.2" y2="459.2" stroke="#282828" stroke-width="1.3"/>
<line x1="410.6" y1="448.7" x2="413.40000000000003" y2="448.7" stroke="#282828" stroke-width="1.3"/>
<line x1="726.0" y1="448.7" x2="723.2" y2="448.7" stroke="#282828" stroke-width="1.3"/>
<line x1="410.6" y1="438.3" x2="413.40000000000003" y2="438.3" stroke="#282828" stroke-width="1.3"/>
<line x1="726.0" y1="438.3" x2="723.2" y2="438.3" stroke="#282828" stroke-width="1.3"/>
<line x1="410.6" y1="427.8" x2="413.40000000000003" y2="427.8" stroke="#282828" stroke-width="1.3"/>
<line x1="726.0" y1="427.8" x2="723.2" y2="427.8" stroke="#282828" stroke-width="1.3"/>
<line x1="410.6" y1="417.3" x2="413.40000000000003" y2="417.3" stroke="#282828" stroke-width="1.3"/>
<line x1="726.0" y1="417.3" x2="723.2" y2="417.3" stroke="#282828" stroke-width="1.3"/>
<line x1="410.6" y1="406.9" x2="413.40000000000003" y2="406.9" stroke="#282828" stroke-width="1.3"/>
<line x1="726.0" y1="406.9" x2="723.2" y2="406.9" stroke="#282828" stroke-width="1.3"/>
<line x1="410.6" y1="396.4" x2="413.40000000000003" y2="396.4" stroke="#282828" stroke-width="1.3"/>
<line x1="726.0" y1="396.4" x2="723.2" y2="396.4" stroke="#282828" stroke-width="1.3"/>
<line x1="410.6" y1="386.0" x2="413.40000000000003" y2="386.0" stroke="#282828" stroke-width="1.3"/>
<line x1="726.0" y1="386.0" x2="723.2" y2="386.0" stroke="#282828" stroke-width="1.3"/>
<line x1="410.6" y1="375.5" x2="416.1" y2="375.5" stroke="#282828" stroke-width="1.3"/>
<line x1="726.0" y1="375.5" x2="720.5" y2="375.5" stroke="#282828" stroke-width="1.3"/>
<line x1="410.6" y1="689.3" x2="410.6" y2="686.5" stroke="#282828" stroke-width="1.3"/>
<line x1="410.6" y1="375.5" x2="410.6" y2="378.3" stroke="#282828" stroke-width="1.3"/>
<line x1="427.2" y1="689.3" x2="427.2" y2="686.5" stroke="#282828" stroke-width="1.3"/>
<line x1="427.2" y1="375.5" x2="427.2" y2="378.3" stroke="#282828" stroke-width="1.3"/>
<line x1="443.8" y1="689.3" x2="443.8" y2="686.5" stroke="#282828" stroke-width="1.3"/>
<line x1="443.8" y1="375.5" x2="443.8" y2="378.3" stroke="#282828" stroke-width="1.3"/>
<line x1="460.4" y1="689.3" x2="460.4" y2="686.5" stroke="#282828" stroke-width="1.3"/>
<line x1="460.4" y1="375.5" x2="460.4" y2="378.3" stroke="#282828" stroke-width="1.3"/>
<line x1="477.0" y1="689.3" x2="477.0" y2="683.8" stroke="#282828" stroke-width="1.3"/>
<line x1="477.0" y1="375.5" x2="477.0" y2="381.0" stroke="#282828" stroke-width="1.3"/>
<line x1="493.6" y1="689.3" x2="493.6" y2="686.5" stroke="#282828" stroke-width="1.3"/>
<line x1="493.6" y1="375.5" x2="493.6" y2="378.3" stroke="#282828" stroke-width="1.3"/>
<line x1="510.2" y1="689.3" x2="510.2" y2="686.5" stroke="#282828" stroke-width="1.3"/>
<line x1="510.2" y1="375.5" x2="510.2" y2="378.3" stroke="#282828" stroke-width="1.3"/>
<line x1="526.8" y1="689.3" x2="526.8" y2="686.5" stroke="#282828" stroke-width="1.3"/>
<line x1="526.8" y1="375.5" x2="526.8" y2="378.3" stroke="#282828" stroke-width="1.3"/>
<line x1="543.4" y1="689.3" x2="543.4" y2="686.5" stroke="#282828" stroke-width="1.3"/>
<line x1="543.4" y1="375.5" x2="543.4" y2="378.3" stroke="#282828" stroke-width="1.3"/>
<line x1="560.0" y1="689.3" x2="560.0" y2="683.8" stroke="#282828" stroke-width="1.3"/>
<line x1="560.0" y1="375.5" x2="560.0" y2="381.0" stroke="#282828" stroke-width="1.3"/>
<line x1="576.6" y1="689.3" x2="576.6" y2="686.5" stroke="#282828" stroke-width="1.3"/>
<line x1="576.6" y1="375.5" x2="576.6" y2="378.3" stroke="#282828" stroke-width="1.3"/>
<line x1="593.2" y1="689.3" x2="593.2" y2="686.5" stroke="#282828" stroke-width="1.3"/>
<line x1="593.2" y1="375.5" x2="593.2" y2="378.3" stroke="#282828" stroke-width="1.3"/>
<line x1="609.8" y1="689.3" x2="609.8" y2="686.5" stroke="#282828" stroke-width="1.3"/>
<line x1="609.8" y1="375.5" x2="609.8" y2="378.3" stroke="#282828" stroke-width="1.3"/>
<line x1="626.4" y1="689.3" x2="626.4" y2="686.5" stroke="#282828" stroke-width="1.3"/>
<line x1="626.4" y1="375.5" x2="626.4" y2="378.3" stroke="#282828" stroke-width="1.3"/>
<line x1="643.0" y1="689.3" x2="643.0" y2="683.8" stroke="#282828" stroke-width="1.3"/>
<line x1="643.0" y1="375.5" x2="643.0" y2="381.0" stroke="#282828" stroke-width="1.3"/>
<line x1="659.6" y1="689.3" x2="659.6" y2="686.5" stroke="#282828" stroke-width="1.3"/>
<line x1="659.6" y1="375.5" x2="659.6" y2="378.3" stroke="#282828" stroke-width="1.3"/>
<line x1="676.2" y1="689.3" x2="676.2" y2="686.5" stroke="#282828" stroke-width="1.3"/>
<line x1="676.2" y1="375.5" x2="676.2" y2="378.3" stroke="#282828" stroke-width="1.3"/>
<line x1="692.8" y1="689.3" x2="692.8" y2="686.5" stroke="#282828" stroke-width="1.3"/>
<line x1="692.8" y1="375.5" x2="692.8" y2="378.3" stroke="#282828" stroke-width="1.3"/>
<line x1="709.4" y1="689.3" x2="709.4" y2="686.5" stroke="#282828" stroke-width="1.3"/>
<line x1="709.4" y1="375.5" x2="709.4" y2="378.3" stroke="#282828" stroke-width="1.3"/>
<line x1="726.0" y1="689.3" x2="726.0" y2="683.8" stroke="#282828" stroke-width="1.3"/>
<line x1="726.0" y1="375.5" x2="726.0" y2="381.0" stroke="#282828" stroke-width="1.3"/>
<text x="477.0" y="706.0" text-anchor="middle" class="t">1900</text>
<text x="560.0" y="706.0" text-anchor="middle" class="t">1950</text>
<text x="643.0" y="706.0" text-anchor="middle" class="t">2000</text>
<text x="726.0" y="706.0" text-anchor="middle" class="t">2050</text>
<text x="406.6" y="382.6" text-anchor="end" class="t">2</text>
<text x="406.6" y="484.7" text-anchor="end" class="t">1</text>
<text x="406.6" y="589.3" text-anchor="end" class="t">0</text>
<text x="406.6" y="689.9" text-anchor="end" class="t">-1</text>
<line x1="441.1" y1="406.7" x2="458.20000000000005" y2="406.7" stroke="#00ff00" stroke-width="2.4"/>
<line x1="441.1" y1="420.0" x2="458.20000000000005" y2="420.0" stroke="#303030" stroke-width="3"/>
<text x="465.40000000000003" y="411.2" class="l">HadGEM2-ES</text>
<text x="465.40000000000003" y="424.7" class="l">Multi-model average</text>
<clipPath id="cp4"><rect x="17.0" y="748.6" width="315.0" height="314.30000000000007"/></clipPath>
<g clip-path="url(#cp4)">
<polyline points="17.0,1029.7 18.6,1041.8 19.9,1045.9 21.1,1024.0 22.7,1041.8 23.9,1042.6 25.1,1023.2 26.7,1020.0 28.3,1021.6 30.0,1017.6 31.6,1020.0 33.2,1019.2 34.8,1026.5 36.4,1018.4 38.0,1021.6 40.1,1031.3 41.7,1036.2 43.3,1031.3 46.4,989.8 48.0,1017.1 51.3,1015.4 52.9,1017.9 54.5,1026.8 56.1,1033.2 58.5,1031.6 61.0,1035.6 62.6,1028.4 64.6,1011.4 65.8,1023.5 66.6,1034.8 68.2,1031.6 69.8,1039.7 71.5,1043.7 73.1,1038.1 74.7,1031.6 76.3,1013.8 77.5,1025.1 78.7,1034.8 80.4,1028.4 82.0,1013.8 83.6,1017.1 85.2,1031.6 86.8,1039.7 88.8,1047.0 90.5,1039.7 92.5,1023.5 95.7,1046.2 98.1,1047.8 100.6,1047.0 101.4,1049.4 103.1,1041.1 105.1,1037.8 107.6,1011.2 109.7,1036.1 111.4,1041.9 113.8,1026.2 115.9,1017.9 118.0,1013.7 119.7,1024.5 123.0,1022.9 125.9,1004.6 128.0,1014.6 130.9,1027.8 132.5,1011.2 134.2,1002.1 136.3,1009.6 137.9,1021.2 139.6,1009.6 142.1,1009.6 143.7,996.3 146.2,994.6 147.9,998.0 150.4,989.7 152.9,996.3 154.5,990.5 156.2,977.2 158.1,987.9 159.7,997.9 162.2,997.1 163.9,999.6 165.9,1009.5 168.0,996.2 170.1,983.0 171.8,994.6 173.4,1007.9 175.5,1019.5 177.1,1004.5 178.8,988.8 181.5,993.1 183.8,988.8 187.1,987.9 188.4,1014.5 191.3,999.6 194.5,1000.1 197.1,989.6 201.2,1012.0 203.7,994.6 206.2,1015.3 208.7,1017.0 211.2,999.6 213.7,993.7 216.4,980.0 218.8,981.6 221.2,975.1 223.7,988.1 226.1,973.5 229.3,970.3 232.5,963.0 235.0,967.1 237.1,973.5 239.2,959.3 242.1,952.3 244.2,939.5 245.6,938.1 247.0,953.7 248.4,962.2 249.9,960.7 251.3,942.3 253.4,939.5 255.5,945.2 257.6,936.7 259.8,943.8 261.9,950.8 264.0,938.1 265.4,942.3" fill="none" stroke="#000" stroke-width="3.3" stroke-linejoin="round" stroke-linecap="round"/>
<polyline points="266.3,903.3 274.0,888.6 282.3,873.0 290.6,855.2 298.8,835.3 307.1,814.4 315.4,793.5 323.7,771.6" fill="none" stroke="#000" stroke-width="5.2" stroke-linejoin="round" stroke-linecap="butt"/>
<polyline points="266.3,941.9 270.7,937.7 276.5,932.0 282.3,925.2 286.4,917.4 290.6,908.5 294.7,899.1 300.5,889.2 306.3,878.2 312.1,866.7 317.9,856.2 323.7,846.3" fill="none" stroke="#000" stroke-width="5.2" stroke-linejoin="round" stroke-linecap="butt"/>
<polyline points="286.5,855.9 289.7,851.2" fill="none" stroke="#00ff00" stroke-width="2.6" stroke-linejoin="round" stroke-linecap="round"/>
<polyline points="295.2,841.8 298.3,837.1" fill="none" stroke="#00ff00" stroke-width="2.6" stroke-linejoin="round" stroke-linecap="round"/>
<polyline points="300.7,823.0 303.8,818.2" fill="none" stroke="#00ff00" stroke-width="2.6" stroke-linejoin="round" stroke-linecap="round"/>
<polyline points="307.7,805.7 310.8,799.4" fill="none" stroke="#00ff00" stroke-width="2.6" stroke-linejoin="round" stroke-linecap="round"/>
<polyline points="314.0,788.5 317.9,783.0" fill="none" stroke="#00ff00" stroke-width="2.6" stroke-linejoin="round" stroke-linecap="round"/>
<polyline points="302.9,885.0 309.6,877.6" fill="none" stroke="#00ff00" stroke-width="2.6" stroke-linejoin="round" stroke-linecap="round"/>
<polyline points="314.7,868.7 319.9,862.8" fill="none" stroke="#00ff00" stroke-width="2.6" stroke-linejoin="round" stroke-linecap="round"/>
<polyline points="266.0,945.5 271.9,939.6 277.8,933.7 283.7,924.9 288.2,914.5 292.6,902.7 297.0,893.8 301.5,883.5 305.9,876.1 311.8,867.3 317.7,858.4 323.6,846.6" fill="none" stroke="#00ff00" stroke-width="3.0" stroke-linejoin="round" stroke-linecap="round"/>
<polyline points="266.9,906.0 273.2,893.5 279.5,881.0 285.8,866.8 290.5,855.9 295.2,844.9 301.4,830.8 307.7,815.1 314.0,799.4 318.7,790.0 323.4,777.5 324.2,771.2" fill="none" stroke="#00ff00" stroke-width="3.0" stroke-linejoin="round" stroke-linecap="round"/>
<polyline points="16.5,1029.2 18.1,1016.3 20.5,1014.7 22.9,998.5 24.6,994.5 26.2,1001.8 27.8,1011.5 29.4,1003.4 31.0,1008.2 32.6,1017.9 34.3,1013.1 36.7,1009.8 39.1,1017.9 41.5,1027.6 43.2,1013.1 44.8,998.5 46.4,996.9 48.0,1014.7 50.4,1011.5 52.9,1014.7 55.3,1024.4 57.7,1034.1 60.1,1037.3 62.6,1022.8 65.0,1001.8 67.4,1006.6 69.8,1006.6 72.3,1022.8 73.9,1027.6 75.5,1014.7 77.1,1021.2 79.5,1022.8 82.0,1006.6 84.4,998.5 86.0,1008.2 87.6,1024.4 90.1,1034.1 92.5,1026.0 94.1,1022.8 96.5,1032.5 98.9,1019.5 101.4,1001.8 103.8,1011.5 106.2,994.5 108.7,1000.1 111.1,1003.4 113.5,1009.8 115.9,1014.7 118.4,1013.1 121.6,1003.4 124.0,998.5 125.0,991.2 127.4,1010.6 129.9,1004.1 132.3,997.6 134.7,1002.5 137.1,992.8 139.6,981.5 141.2,978.2 142.8,992.8 144.4,1002.5 146.8,986.3 149.3,984.7 151.7,1004.1 154.1,987.9 156.5,992.8 159.0,1005.7 161.4,999.2 163.8,991.2 166.2,1013.8 168.7,999.2 171.1,1007.3 173.5,996.0 175.9,981.5 177.6,987.9 180.0,994.4 182.4,991.2 184.8,994.4 187.3,997.6 188.9,1025.1 190.5,1017.0 192.1,1005.7 194.5,1013.8 197.0,996.0 199.4,986.3 201.0,1004.1 203.4,1012.2 205.9,1015.4 208.3,1004.1 210.7,984.7 213.1,976.6 215.6,983.1 218.0,984.7 220.4,981.5 222.8,979.8 225.3,973.4 227.7,966.9 230.1,955.6 232.1,941.0 233.7,957.2 235.8,983.1 237.2,978.0 239.4,961.8 241.6,958.8 243.9,964.7 246.1,947.0 248.3,944.1 250.5,952.9 252.7,941.1 255.7,929.3 257.9,929.3 259.4,938.1 260.8,947.0 262.3,942.6 264.5,914.5 266.0,913.0 268.2,935.2 270.4,920.4 272.7,923.4 274.9,905.7 277.1,908.6 278.6,917.5 280.8,907.1 283.7,902.7 285.9,896.8 287.4,890.9 289.6,885.0 291.9,874.6 294.1,864.3 295.5,862.8 297.0,871.7 299.9,877.8 303.0,863.7 306.1,848.0 308.5,835.5 310.8,837.1 313.2,846.5 314.8,837.1 317.9,837.1 321.0,837.1 322.6,815.1 325.0,815.1 327.3,824.5 329.7,810.4 332.0,802.6 333.6,799.4" fill="none" stroke="#ff0000" stroke-width="2.6" stroke-linejoin="round" stroke-linecap="round"/>
</g>
<rect x="17.0" y="748.6" width="315.0" height="314.30000000000007" fill="none" stroke="#222" stroke-width="1.3"/>
<line x1="17.0" y1="1061.6000000000001" x2="332.0" y2="1061.6000000000001" stroke="#c4c4c4" stroke-width="1.1"/>
<line x1="15.6" y1="748.6" x2="15.6" y2="1063.5" stroke="#bbb" stroke-width="1.4"/>
<line x1="330.6" y1="748.6" x2="330.6" y2="1062.9" stroke="#bbb" stroke-width="1.2"/>
<line x1="17.0" y1="1062.9" x2="22.5" y2="1062.9" stroke="#282828" stroke-width="1.3"/>
<line x1="332.0" y1="1062.9" x2="326.5" y2="1062.9" stroke="#282828" stroke-width="1.3"/>
<line x1="17.0" y1="1052.4" x2="19.8" y2="1052.4" stroke="#282828" stroke-width="1.3"/>
<line x1="332.0" y1="1052.4" x2="329.2" y2="1052.4" stroke="#282828" stroke-width="1.3"/>
<line x1="17.0" y1="1041.9" x2="19.8" y2="1041.9" stroke="#282828" stroke-width="1.3"/>
<line x1="332.0" y1="1041.9" x2="329.2" y2="1041.9" stroke="#282828" stroke-width="1.3"/>
<line x1="17.0" y1="1031.5" x2="19.8" y2="1031.5" stroke="#282828" stroke-width="1.3"/>
<line x1="332.0" y1="1031.5" x2="329.2" y2="1031.5" stroke="#282828" stroke-width="1.3"/>
<line x1="17.0" y1="1021.0" x2="19.8" y2="1021.0" stroke="#282828" stroke-width="1.3"/>
<line x1="332.0" y1="1021.0" x2="329.2" y2="1021.0" stroke="#282828" stroke-width="1.3"/>
<line x1="17.0" y1="1010.5" x2="19.8" y2="1010.5" stroke="#282828" stroke-width="1.3"/>
<line x1="332.0" y1="1010.5" x2="329.2" y2="1010.5" stroke="#282828" stroke-width="1.3"/>
<line x1="17.0" y1="1000.0" x2="19.8" y2="1000.0" stroke="#282828" stroke-width="1.3"/>
<line x1="332.0" y1="1000.0" x2="329.2" y2="1000.0" stroke="#282828" stroke-width="1.3"/>
<line x1="17.0" y1="989.6" x2="19.8" y2="989.6" stroke="#282828" stroke-width="1.3"/>
<line x1="332.0" y1="989.6" x2="329.2" y2="989.6" stroke="#282828" stroke-width="1.3"/>
<line x1="17.0" y1="979.1" x2="19.8" y2="979.1" stroke="#282828" stroke-width="1.3"/>
<line x1="332.0" y1="979.1" x2="329.2" y2="979.1" stroke="#282828" stroke-width="1.3"/>
<line x1="17.0" y1="968.6" x2="19.8" y2="968.6" stroke="#282828" stroke-width="1.3"/>
<line x1="332.0" y1="968.6" x2="329.2" y2="968.6" stroke="#282828" stroke-width="1.3"/>
<line x1="17.0" y1="958.1" x2="22.5" y2="958.1" stroke="#282828" stroke-width="1.3"/>
<line x1="332.0" y1="958.1" x2="326.5" y2="958.1" stroke="#282828" stroke-width="1.3"/>
<line x1="17.0" y1="947.7" x2="19.8" y2="947.7" stroke="#282828" stroke-width="1.3"/>
<line x1="332.0" y1="947.7" x2="329.2" y2="947.7" stroke="#282828" stroke-width="1.3"/>
<line x1="17.0" y1="937.2" x2="19.8" y2="937.2" stroke="#282828" stroke-width="1.3"/>
<line x1="332.0" y1="937.2" x2="329.2" y2="937.2" stroke="#282828" stroke-width="1.3"/>
<line x1="17.0" y1="926.7" x2="19.8" y2="926.7" stroke="#282828" stroke-width="1.3"/>
<line x1="332.0" y1="926.7" x2="329.2" y2="926.7" stroke="#282828" stroke-width="1.3"/>
<line x1="17.0" y1="916.2" x2="19.8" y2="916.2" stroke="#282828" stroke-width="1.3"/>
<line x1="332.0" y1="916.2" x2="329.2" y2="916.2" stroke="#282828" stroke-width="1.3"/>
<line x1="17.0" y1="905.8" x2="19.8" y2="905.8" stroke="#282828" stroke-width="1.3"/>
<line x1="332.0" y1="905.8" x2="329.2" y2="905.8" stroke="#282828" stroke-width="1.3"/>
<line x1="17.0" y1="895.3" x2="19.8" y2="895.3" stroke="#282828" stroke-width="1.3"/>
<line x1="332.0" y1="895.3" x2="329.2" y2="895.3" stroke="#282828" stroke-width="1.3"/>
<line x1="17.0" y1="884.8" x2="19.8" y2="884.8" stroke="#282828" stroke-width="1.3"/>
<line x1="332.0" y1="884.8" x2="329.2" y2="884.8" stroke="#282828" stroke-width="1.3"/>
<line x1="17.0" y1="874.3" x2="19.8" y2="874.3" stroke="#282828" stroke-width="1.3"/>
<line x1="332.0" y1="874.3" x2="329.2" y2="874.3" stroke="#282828" stroke-width="1.3"/>
<line x1="17.0" y1="863.8" x2="19.8" y2="863.8" stroke="#282828" stroke-width="1.3"/>
<line x1="332.0" y1="863.8" x2="329.2" y2="863.8" stroke="#282828" stroke-width="1.3"/>
<line x1="17.0" y1="853.4" x2="22.5" y2="853.4" stroke="#282828" stroke-width="1.3"/>
<line x1="332.0" y1="853.4" x2="326.5" y2="853.4" stroke="#282828" stroke-width="1.3"/>
<line x1="17.0" y1="842.9" x2="19.8" y2="842.9" stroke="#282828" stroke-width="1.3"/>
<line x1="332.0" y1="842.9" x2="329.2" y2="842.9" stroke="#282828" stroke-width="1.3"/>
<line x1="17.0" y1="832.4" x2="19.8" y2="832.4" stroke="#282828" stroke-width="1.3"/>
<line x1="332.0" y1="832.4" x2="329.2" y2="832.4" stroke="#282828" stroke-width="1.3"/>
<line x1="17.0" y1="821.9" x2="19.8" y2="821.9" stroke="#282828" stroke-width="1.3"/>
<line x1="332.0" y1="821.9" x2="329.2" y2="821.9" stroke="#282828" stroke-width="1.3"/>
<line x1="17.0" y1="811.5" x2="19.8" y2="811.5" stroke="#282828" stroke-width="1.3"/>
<line x1="332.0" y1="811.5" x2="329.2" y2="811.5" stroke="#282828" stroke-width="1.3"/>
<line x1="17.0" y1="801.0" x2="19.8" y2="801.0" stroke="#282828" stroke-width="1.3"/>
<line x1="332.0" y1="801.0" x2="329.2" y2="801.0" stroke="#282828" stroke-width="1.3"/>
<line x1="17.0" y1="790.5" x2="19.8" y2="790.5" stroke="#282828" stroke-width="1.3"/>
<line x1="332.0" y1="790.5" x2="329.2" y2="790.5" stroke="#282828" stroke-width="1.3"/>
<line x1="17.0" y1="780.0" x2="19.8" y2="780.0" stroke="#282828" stroke-width="1.3"/>
<line x1="332.0" y1="780.0" x2="329.2" y2="780.0" stroke="#282828" stroke-width="1.3"/>
<line x1="17.0" y1="769.6" x2="19.8" y2="769.6" stroke="#282828" stroke-width="1.3"/>
<line x1="332.0" y1="769.6" x2="329.2" y2="769.6" stroke="#282828" stroke-width="1.3"/>
<line x1="17.0" y1="759.1" x2="19.8" y2="759.1" stroke="#282828" stroke-width="1.3"/>
<line x1="332.0" y1="759.1" x2="329.2" y2="759.1" stroke="#282828" stroke-width="1.3"/>
<line x1="17.0" y1="748.6" x2="22.5" y2="748.6" stroke="#282828" stroke-width="1.3"/>
<line x1="332.0" y1="748.6" x2="326.5" y2="748.6" stroke="#282828" stroke-width="1.3"/>
<line x1="17.0" y1="1062.9" x2="17.0" y2="1060.1000000000001" stroke="#282828" stroke-width="1.3"/>
<line x1="17.0" y1="748.6" x2="17.0" y2="751.4" stroke="#282828" stroke-width="1.3"/>
<line x1="33.6" y1="1062.9" x2="33.6" y2="1060.1000000000001" stroke="#282828" stroke-width="1.3"/>
<line x1="33.6" y1="748.6" x2="33.6" y2="751.4" stroke="#282828" stroke-width="1.3"/>
<line x1="50.2" y1="1062.9" x2="50.2" y2="1060.1000000000001" stroke="#282828" stroke-width="1.3"/>
<line x1="50.2" y1="748.6" x2="50.2" y2="751.4" stroke="#282828" stroke-width="1.3"/>
<line x1="66.7" y1="1062.9" x2="66.7" y2="1060.1000000000001" stroke="#282828" stroke-width="1.3"/>
<line x1="66.7" y1="748.6" x2="66.7" y2="751.4" stroke="#282828" stroke-width="1.3"/>
<line x1="83.3" y1="1062.9" x2="83.3" y2="1057.4" stroke="#282828" stroke-width="1.3"/>
<line x1="83.3" y1="748.6" x2="83.3" y2="754.1" stroke="#282828" stroke-width="1.3"/>
<line x1="99.9" y1="1062.9" x2="99.9" y2="1060.1000000000001" stroke="#282828" stroke-width="1.3"/>
<line x1="99.9" y1="748.6" x2="99.9" y2="751.4" stroke="#282828" stroke-width="1.3"/>
<line x1="116.5" y1="1062.9" x2="116.5" y2="1060.1000000000001" stroke="#282828" stroke-width="1.3"/>
<line x1="116.5" y1="748.6" x2="116.5" y2="751.4" stroke="#282828" stroke-width="1.3"/>
<line x1="133.1" y1="1062.9" x2="133.1" y2="1060.1000000000001" stroke="#282828" stroke-width="1.3"/>
<line x1="133.1" y1="748.6" x2="133.1" y2="751.4" stroke="#282828" stroke-width="1.3"/>
<line x1="149.6" y1="1062.9" x2="149.6" y2="1060.1000000000001" stroke="#282828" stroke-width="1.3"/>
<line x1="149.6" y1="748.6" x2="149.6" y2="751.4" stroke="#282828" stroke-width="1.3"/>
<line x1="166.2" y1="1062.9" x2="166.2" y2="1057.4" stroke="#282828" stroke-width="1.3"/>
<line x1="166.2" y1="748.6" x2="166.2" y2="754.1" stroke="#282828" stroke-width="1.3"/>
<line x1="182.8" y1="1062.9" x2="182.8" y2="1060.1000000000001" stroke="#282828" stroke-width="1.3"/>
<line x1="182.8" y1="748.6" x2="182.8" y2="751.4" stroke="#282828" stroke-width="1.3"/>
<line x1="199.4" y1="1062.9" x2="199.4" y2="1060.1000000000001" stroke="#282828" stroke-width="1.3"/>
<line x1="199.4" y1="748.6" x2="199.4" y2="751.4" stroke="#282828" stroke-width="1.3"/>
<line x1="215.9" y1="1062.9" x2="215.9" y2="1060.1000000000001" stroke="#282828" stroke-width="1.3"/>
<line x1="215.9" y1="748.6" x2="215.9" y2="751.4" stroke="#282828" stroke-width="1.3"/>
<line x1="232.5" y1="1062.9" x2="232.5" y2="1060.1000000000001" stroke="#282828" stroke-width="1.3"/>
<line x1="232.5" y1="748.6" x2="232.5" y2="751.4" stroke="#282828" stroke-width="1.3"/>
<line x1="249.1" y1="1062.9" x2="249.1" y2="1057.4" stroke="#282828" stroke-width="1.3"/>
<line x1="249.1" y1="748.6" x2="249.1" y2="754.1" stroke="#282828" stroke-width="1.3"/>
<line x1="265.7" y1="1062.9" x2="265.7" y2="1060.1000000000001" stroke="#282828" stroke-width="1.3"/>
<line x1="265.7" y1="748.6" x2="265.7" y2="751.4" stroke="#282828" stroke-width="1.3"/>
<line x1="282.3" y1="1062.9" x2="282.3" y2="1060.1000000000001" stroke="#282828" stroke-width="1.3"/>
<line x1="282.3" y1="748.6" x2="282.3" y2="751.4" stroke="#282828" stroke-width="1.3"/>
<line x1="298.8" y1="1062.9" x2="298.8" y2="1060.1000000000001" stroke="#282828" stroke-width="1.3"/>
<line x1="298.8" y1="748.6" x2="298.8" y2="751.4" stroke="#282828" stroke-width="1.3"/>
<line x1="315.4" y1="1062.9" x2="315.4" y2="1060.1000000000001" stroke="#282828" stroke-width="1.3"/>
<line x1="315.4" y1="748.6" x2="315.4" y2="751.4" stroke="#282828" stroke-width="1.3"/>
<line x1="332.0" y1="1062.9" x2="332.0" y2="1057.4" stroke="#282828" stroke-width="1.3"/>
<line x1="332.0" y1="748.6" x2="332.0" y2="754.1" stroke="#282828" stroke-width="1.3"/>
<text x="83.3" y="1079.6" text-anchor="middle" class="t">1900</text>
<text x="166.2" y="1079.6" text-anchor="middle" class="t">1950</text>
<text x="249.1" y="1079.6" text-anchor="middle" class="t">2000</text>
<text x="332.0" y="1079.6" text-anchor="middle" class="t">2050</text>
<text x="13.0" y="755.7" text-anchor="end" class="t">2</text>
<text x="13.0" y="858.0" text-anchor="end" class="t">1</text>
<text x="13.0" y="962.7" text-anchor="end" class="t">0</text>
<text x="13.0" y="1063.5" text-anchor="end" class="t">-1</text>
<line x1="47.5" y1="779.8000000000001" x2="64.6" y2="779.8000000000001" stroke="#00ff00" stroke-width="2.4"/>
<line x1="47.5" y1="793.1" x2="64.6" y2="793.1" stroke="#303030" stroke-width="3"/>
<text x="71.8" y="784.3000000000001" class="l">NorESM1-M</text>
<text x="71.8" y="797.8000000000001" class="l">Multi-model average</text>
<clipPath id="cp5"><rect x="410.6" y="748.6" width="315.4" height="314.30000000000007"/></clipPath>
<g clip-path="url(#cp5)">
<polyline points="410.6,1029.7 412.2,1041.8 413.5,1045.9 414.7,1024.0 416.3,1041.8 417.5,1042.6 418.7,1023.2 420.3,1020.0 421.9,1021.6 423.6,1017.6 425.2,1020.0 426.8,1019.2 428.4,1026.5 430.0,1018.4 431.6,1021.6 433.7,1031.3 435.3,1036.2 436.9,1031.3 440.0,989.8 441.6,1017.1 444.9,1015.4 446.5,1017.9 448.1,1026.8 449.7,1033.2 452.1,1031.6 454.6,1035.6 456.2,1028.4 458.2,1011.4 459.4,1023.5 460.2,1034.8 461.8,1031.6 463.4,1039.7 465.1,1043.7 466.7,1038.1 468.3,1031.6 469.9,1013.8 471.1,1025.1 472.3,1034.8 474.0,1028.4 475.6,1013.8 477.2,1017.1 478.8,1031.6 480.4,1039.7 482.4,1047.0 484.1,1039.7 486.1,1023.5 489.3,1046.2 491.7,1047.8 494.2,1047.0 495.0,1049.4 496.7,1041.1 498.7,1037.8 501.2,1011.2 503.3,1036.1 505.0,1041.9 507.4,1026.2 509.5,1017.9 511.6,1013.7 513.3,1024.5 516.6,1022.9 519.5,1004.6 521.6,1014.6 524.5,1027.8 526.1,1011.2 527.8,1002.1 529.9,1009.6 531.5,1021.2 533.2,1009.6 535.7,1009.6 537.3,996.3 539.8,994.6 541.5,998.0 544.0,989.7 546.5,996.3 548.1,990.5 549.8,977.2 551.7,987.9 553.3,997.9 555.8,997.1 557.5,999.6 559.5,1009.5 561.6,996.2 563.7,983.0 565.4,994.6 567.0,1007.9 569.1,1019.5 570.7,1004.5 572.4,988.8 575.1,993.1 577.4,988.8 580.7,987.9 582.0,1014.5 584.9,999.6 588.1,1000.1 590.7,989.6 594.8,1012.0 597.3,994.6 599.8,1015.3 602.3,1017.0 604.8,999.6 607.3,993.7 610.0,980.0 612.4,981.6 614.8,975.1 617.3,988.1 619.7,973.5 622.9,970.3 626.1,963.0 628.6,967.1 630.7,973.5 632.8,959.3 635.7,952.3 637.8,939.5 639.2,938.1 640.6,953.7 642.0,962.2 643.5,960.7 644.9,942.3 647.0,939.5 649.1,945.2 651.2,936.7 653.4,943.8 655.5,950.8 657.6,938.1 659.0,942.3" fill="none" stroke="#000" stroke-width="3.3" stroke-linejoin="round" stroke-linecap="round"/>
<polyline points="659.9,903.3 667.6,888.6 675.9,873.0 684.2,855.2 692.4,835.3 700.7,814.4 709.0,793.5 717.3,771.6" fill="none" stroke="#000" stroke-width="5.2" stroke-linejoin="round" stroke-linecap="butt"/>
<polyline points="659.9,941.9 664.3,937.7 670.1,932.0 675.9,925.2 680.0,917.4 684.2,908.5 688.3,899.1 694.1,889.2 699.9,878.2 705.7,866.7 711.5,856.2 717.3,846.3" fill="none" stroke="#000" stroke-width="5.2" stroke-linejoin="round" stroke-linecap="butt"/>
<polyline points="659.4,950.6 666.8,946.2 674.2,940.3 680.1,930.0 686.0,918.1 691.9,906.3 697.8,896.0 703.7,885.7 709.6,876.8 717.8,865.0" fill="none" stroke="#00ff00" stroke-width="2.6" stroke-linejoin="round" stroke-linecap="round"/>
<polyline points="659.4,913.7 665.3,907.8 671.2,900.4 677.2,891.6 683.1,879.7 689.0,867.9 694.9,856.1 700.8,844.3 706.7,834.0 712.6,823.6 717.8,814.8" fill="none" stroke="#00ff00" stroke-width="2.6" stroke-linejoin="round" stroke-linecap="round"/>
<polyline points="409.5,1074.0 415.9,1074.0 417.6,1064.3 419.2,1057.8 420.8,1061.0 423.2,1060.2 425.6,1057.8 428.1,1059.4 430.5,1055.4 432.9,1051.3 434.9,1044.1 436.5,1049.7 438.1,1054.6 439.7,1045.7 441.3,1052.1 443.1,1056.2 445.4,1044.1 447.0,1051.3 449.1,1064.3 450.7,1077.2 474.2,1077.2 476.6,1059.4 478.2,1064.3 480.6,1069.1 483.9,1062.7 486.3,1057.8 488.7,1056.2 491.1,1052.9 493.6,1051.3 496.0,1057.8 498.4,1044.9 500.8,1043.2 502.5,1049.7 504.9,1046.5 507.3,1051.3 509.7,1048.1 512.2,1043.2 514.6,1046.5 517.0,1052.9 518.6,1036.8 520.3,1033.5 522.9,1033.5 525.3,1031.1 527.7,1033.5 530.1,1036.7 532.6,1044.8 534.2,1049.7 535.8,1030.3 537.4,1022.2 539.8,1031.9 541.5,1033.5 543.1,1025.4 545.5,1022.2 547.9,1015.7 550.0,1010.1 552.0,1012.5 554.4,1018.9 556.5,1023.8 558.4,1010.9 560.0,1012.5 562.5,1022.2 564.9,1023.8 567.3,1027.0 568.9,1012.5 571.4,1017.3 573.8,1023.8 576.2,1012.5 578.6,1020.6 581.1,1040.0 583.5,1049.7 585.9,1033.5 587.9,1033.5 590.0,1041.6 592.4,1027.0 594.8,1023.8 597.2,1020.6 600.5,1017.3 602.9,1014.1 605.3,1014.1 607.8,1007.6 609.4,1004.4 611.8,997.9 614.2,997.9 616.7,993.1 619.1,991.5 621.5,978.5 623.9,967.2 625.5,959.1 628.0,973.7 629.6,986.6 632.0,978.5 635.4,955.9 638.3,942.6 641.3,935.2 644.2,927.8 646.5,926.3 648.7,932.2 650.9,924.9 653.1,927.8 655.3,920.4 656.8,907.1 658.0,906.3 660.9,904.9 663.9,909.3 666.8,900.4 669.8,894.5 674.2,891.6 677.2,882.7 680.1,872.4 683.1,867.9 684.5,859.1 686.8,850.2 690.4,841.4 693.4,835.4 696.4,834.0 697.1,825.1 699.3,817.7 702.3,811.8 705.2,805.9 710.4,797.5 711.7,791.0 713.0,772.9 715.5,767.7 718.1,765.2 720.3,754.0 721.9,749.3 723.4,743.0 724.2,739.9" fill="none" stroke="#ff0000" stroke-width="2.6" stroke-linejoin="round" stroke-linecap="round"/>
<polyline points="655.3,920.4 656.8,907.1 658.0,906.3 660.9,904.9 663.9,909.3 666.8,900.4 669.8,894.5 674.2,891.6 677.2,882.7 680.1,872.4 683.1,867.9 684.5,859.1 686.8,850.2 690.4,841.4 693.4,835.4 696.4,834.0 697.1,825.1 699.3,817.7 702.3,811.8 705.2,805.9 710.4,797.5 711.7,791.0 713.0,772.9 715.5,767.7 718.1,765.2 720.3,754.0 721.9,749.3 723.4,743.0 724.2,739.9" fill="none" stroke="#ff0000" stroke-width="3.6" stroke-linejoin="round" stroke-linecap="round"/>
</g>
<rect x="410.6" y="748.6" width="315.4" height="314.30000000000007" fill="none" stroke="#222" stroke-width="1.3"/>
<line x1="410.6" y1="1061.6000000000001" x2="726.0" y2="1061.6000000000001" stroke="#c4c4c4" stroke-width="1.1"/>
<line x1="410.6" y1="1062.9" x2="416.1" y2="1062.9" stroke="#282828" stroke-width="1.3"/>
<line x1="726.0" y1="1062.9" x2="720.5" y2="1062.9" stroke="#282828" stroke-width="1.3"/>
<line x1="410.6" y1="1052.4" x2="413.40000000000003" y2="1052.4" stroke="#282828" stroke-width="1.3"/>
<line x1="726.0" y1="1052.4" x2="723.2" y2="1052.4" stroke="#282828" stroke-width="1.3"/>
<line x1="410.6" y1="1041.9" x2="413.40000000000003" y2="1041.9" stroke="#282828" stroke-width="1.3"/>
<line x1="726.0" y1="1041.9" x2="723.2" y2="1041.9" stroke="#282828" stroke-width="1.3"/>
<line x1="410.6" y1="1031.5" x2="413.40000000000003" y2="1031.5" stroke="#282828" stroke-width="1.3"/>
<line x1="726.0" y1="1031.5" x2="723.2" y2="1031.5" stroke="#282828" stroke-width="1.3"/>
<line x1="410.6" y1="1021.0" x2="413.40000000000003" y2="1021.0" stroke="#282828" stroke-width="1.3"/>
<line x1="726.0" y1="1021.0" x2="723.2" y2="1021.0" stroke="#282828" stroke-width="1.3"/>
<line x1="410.6" y1="1010.5" x2="413.40000000000003" y2="1010.5" stroke="#282828" stroke-width="1.3"/>
<line x1="726.0" y1="1010.5" x2="723.2" y2="1010.5" stroke="#282828" stroke-width="1.3"/>
<line x1="410.6" y1="1000.0" x2="413.40000000000003" y2="1000.0" stroke="#282828" stroke-width="1.3"/>
<line x1="726.0" y1="1000.0" x2="723.2" y2="1000.0" stroke="#282828" stroke-width="1.3"/>
<line x1="410.6" y1="989.6" x2="413.40000000000003" y2="989.6" stroke="#282828" stroke-width="1.3"/>
<line x1="726.0" y1="989.6" x2="723.2" y2="989.6" stroke="#282828" stroke-width="1.3"/>
<line x1="410.6" y1="979.1" x2="413.40000000000003" y2="979.1" stroke="#282828" stroke-width="1.3"/>
<line x1="726.0" y1="979.1" x2="723.2" y2="979.1" stroke="#282828" stroke-width="1.3"/>
<line x1="410.6" y1="968.6" x2="413.40000000000003" y2="968.6" stroke="#282828" stroke-width="1.3"/>
<line x1="726.0" y1="968.6" x2="723.2" y2="968.6" stroke="#282828" stroke-width="1.3"/>
<line x1="410.6" y1="958.1" x2="416.1" y2="958.1" stroke="#282828" stroke-width="1.3"/>
<line x1="726.0" y1="958.1" x2="720.5" y2="958.1" stroke="#282828" stroke-width="1.3"/>
<line x1="410.6" y1="947.7" x2="413.40000000000003" y2="947.7" stroke="#282828" stroke-width="1.3"/>
<line x1="726.0" y1="947.7" x2="723.2" y2="947.7" stroke="#282828" stroke-width="1.3"/>
<line x1="410.6" y1="937.2" x2="413.40000000000003" y2="937.2" stroke="#282828" stroke-width="1.3"/>
<line x1="726.0" y1="937.2" x2="723.2" y2="937.2" stroke="#282828" stroke-width="1.3"/>
<line x1="410.6" y1="926.7" x2="413.40000000000003" y2="926.7" stroke="#282828" stroke-width="1.3"/>
<line x1="726.0" y1="926.7" x2="723.2" y2="926.7" stroke="#282828" stroke-width="1.3"/>
<line x1="410.6" y1="916.2" x2="413.40000000000003" y2="916.2" stroke="#282828" stroke-width="1.3"/>
<line x1="726.0" y1="916.2" x2="723.2" y2="916.2" stroke="#282828" stroke-width="1.3"/>
<line x1="410.6" y1="905.8" x2="413.40000000000003" y2="905.8" stroke="#282828" stroke-width="1.3"/>
<line x1="726.0" y1="905.8" x2="723.2" y2="905.8" stroke="#282828" stroke-width="1.3"/>
<line x1="410.6" y1="895.3" x2="413.40000000000003" y2="895.3" stroke="#282828" stroke-width="1.3"/>
<line x1="726.0" y1="895.3" x2="723.2" y2="895.3" stroke="#282828" stroke-width="1.3"/>
<line x1="410.6" y1="884.8" x2="413.40000000000003" y2="884.8" stroke="#282828" stroke-width="1.3"/>
<line x1="726.0" y1="884.8" x2="723.2" y2="884.8" stroke="#282828" stroke-width="1.3"/>
<line x1="410.6" y1="874.3" x2="413.40000000000003" y2="874.3" stroke="#282828" stroke-width="1.3"/>
<line x1="726.0" y1="874.3" x2="723.2" y2="874.3" stroke="#282828" stroke-width="1.3"/>
<line x1="410.6" y1="863.8" x2="413.40000000000003" y2="863.8" stroke="#282828" stroke-width="1.3"/>
<line x1="726.0" y1="863.8" x2="723.2" y2="863.8" stroke="#282828" stroke-width="1.3"/>
<line x1="410.6" y1="853.4" x2="416.1" y2="853.4" stroke="#282828" stroke-width="1.3"/>
<line x1="726.0" y1="853.4" x2="720.5" y2="853.4" stroke="#282828" stroke-width="1.3"/>
<line x1="410.6" y1="842.9" x2="413.40000000000003" y2="842.9" stroke="#282828" stroke-width="1.3"/>
<line x1="726.0" y1="842.9" x2="723.2" y2="842.9" stroke="#282828" stroke-width="1.3"/>
<line x1="410.6" y1="832.4" x2="413.40000000000003" y2="832.4" stroke="#282828" stroke-width="1.3"/>
<line x1="726.0" y1="832.4" x2="723.2" y2="832.4" stroke="#282828" stroke-width="1.3"/>
<line x1="410.6" y1="821.9" x2="413.40000000000003" y2="821.9" stroke="#282828" stroke-width="1.3"/>
<line x1="726.0" y1="821.9" x2="723.2" y2="821.9" stroke="#282828" stroke-width="1.3"/>
<line x1="410.6" y1="811.5" x2="413.40000000000003" y2="811.5" stroke="#282828" stroke-width="1.3"/>
<line x1="726.0" y1="811.5" x2="723.2" y2="811.5" stroke="#282828" stroke-width="1.3"/>
<line x1="410.6" y1="801.0" x2="413.40000000000003" y2="801.0" stroke="#282828" stroke-width="1.3"/>
<line x1="726.0" y1="801.0" x2="723.2" y2="801.0" stroke="#282828" stroke-width="1.3"/>
<line x1="410.6" y1="790.5" x2="413.40000000000003" y2="790.5" stroke="#282828" stroke-width="1.3"/>
<line x1="726.0" y1="790.5" x2="723.2" y2="790.5" stroke="#282828" stroke-width="1.3"/>
<line x1="410.6" y1="780.0" x2="413.40000000000003" y2="780.0" stroke="#282828" stroke-width="1.3"/>
<line x1="726.0" y1="780.0" x2="723.2" y2="780.0" stroke="#282828" stroke-width="1.3"/>
<line x1="410.6" y1="769.6" x2="413.40000000000003" y2="769.6" stroke="#282828" stroke-width="1.3"/>
<line x1="726.0" y1="769.6" x2="723.2" y2="769.6" stroke="#282828" stroke-width="1.3"/>
<line x1="410.6" y1="759.1" x2="413.40000000000003" y2="759.1" stroke="#282828" stroke-width="1.3"/>
<line x1="726.0" y1="759.1" x2="723.2" y2="759.1" stroke="#282828" stroke-width="1.3"/>
<line x1="410.6" y1="748.6" x2="416.1" y2="748.6" stroke="#282828" stroke-width="1.3"/>
<line x1="726.0" y1="748.6" x2="720.5" y2="748.6" stroke="#282828" stroke-width="1.3"/>
<line x1="410.6" y1="1062.9" x2="410.6" y2="1060.1000000000001" stroke="#282828" stroke-width="1.3"/>
<line x1="410.6" y1="748.6" x2="410.6" y2="751.4" stroke="#282828" stroke-width="1.3"/>
<line x1="427.2" y1="1062.9" x2="427.2" y2="1060.1000000000001" stroke="#282828" stroke-width="1.3"/>
<line x1="427.2" y1="748.6" x2="427.2" y2="751.4" stroke="#282828" stroke-width="1.3"/>
<line x1="443.8" y1="1062.9" x2="443.8" y2="1060.1000000000001" stroke="#282828" stroke-width="1.3"/>
<line x1="443.8" y1="748.6" x2="443.8" y2="751.4" stroke="#282828" stroke-width="1.3"/>
<line x1="460.4" y1="1062.9" x2="460.4" y2="1060.1000000000001" stroke="#282828" stroke-width="1.3"/>
<line x1="460.4" y1="748.6" x2="460.4" y2="751.4" stroke="#282828" stroke-width="1.3"/>
<line x1="477.0" y1="1062.9" x2="477.0" y2="1057.4" stroke="#282828" stroke-width="1.3"/>
<line x1="477.0" y1="748.6" x2="477.0" y2="754.1" stroke="#282828" stroke-width="1.3"/>
<line x1="493.6" y1="1062.9" x2="493.6" y2="1060.1000000000001" stroke="#282828" stroke-width="1.3"/>
<line x1="493.6" y1="748.6" x2="493.6" y2="751.4" stroke="#282828" stroke-width="1.3"/>
<line x1="510.2" y1="1062.9" x2="510.2" y2="1060.1000000000001" stroke="#282828" stroke-width="1.3"/>
<line x1="510.2" y1="748.6" x2="510.2" y2="751.4" stroke="#282828" stroke-width="1.3"/>
<line x1="526.8" y1="1062.9" x2="526.8" y2="1060.1000000000001" stroke="#282828" stroke-width="1.3"/>
<line x1="526.8" y1="748.6" x2="526.8" y2="751.4" stroke="#282828" stroke-width="1.3"/>
<line x1="543.4" y1="1062.9" x2="543.4" y2="1060.1000000000001" stroke="#282828" stroke-width="1.3"/>
<line x1="543.4" y1="748.6" x2="543.4" y2="751.4" stroke="#282828" stroke-width="1.3"/>
<line x1="560.0" y1="1062.9" x2="560.0" y2="1057.4" stroke="#282828" stroke-width="1.3"/>
<line x1="560.0" y1="748.6" x2="560.0" y2="754.1" stroke="#282828" stroke-width="1.3"/>
<line x1="576.6" y1="1062.9" x2="576.6" y2="1060.1000000000001" stroke="#282828" stroke-width="1.3"/>
<line x1="576.6" y1="748.6" x2="576.6" y2="751.4" stroke="#282828" stroke-width="1.3"/>
<line x1="593.2" y1="1062.9" x2="593.2" y2="1060.1000000000001" stroke="#282828" stroke-width="1.3"/>
<line x1="593.2" y1="748.6" x2="593.2" y2="751.4" stroke="#282828" stroke-width="1.3"/>
<line x1="609.8" y1="1062.9" x2="609.8" y2="1060.1000000000001" stroke="#282828" stroke-width="1.3"/>
<line x1="609.8" y1="748.6" x2="609.8" y2="751.4" stroke="#282828" stroke-width="1.3"/>
<line x1="626.4" y1="1062.9" x2="626.4" y2="1060.1000000000001" stroke="#282828" stroke-width="1.3"/>
<line x1="626.4" y1="748.6" x2="626.4" y2="751.4" stroke="#282828" stroke-width="1.3"/>
<line x1="643.0" y1="1062.9" x2="643.0" y2="1057.4" stroke="#282828" stroke-width="1.3"/>
<line x1="643.0" y1="748.6" x2="643.0" y2="754.1" stroke="#282828" stroke-width="1.3"/>
<line x1="659.6" y1="1062.9" x2="659.6" y2="1060.1000000000001" stroke="#282828" stroke-width="1.3"/>
<line x1="659.6" y1="748.6" x2="659.6" y2="751.4" stroke="#282828" stroke-width="1.3"/>
<line x1="676.2" y1="1062.9" x2="676.2" y2="1060.1000000000001" stroke="#282828" stroke-width="1.3"/>
<line x1="676.2" y1="748.6" x2="676.2" y2="751.4" stroke="#282828" stroke-width="1.3"/>
<line x1="692.8" y1="1062.9" x2="692.8" y2="1060.1000000000001" stroke="#282828" stroke-width="1.3"/>
<line x1="692.8" y1="748.6" x2="692.8" y2="751.4" stroke="#282828" stroke-width="1.3"/>
<line x1="709.4" y1="1062.9" x2="709.4" y2="1060.1000000000001" stroke="#282828" stroke-width="1.3"/>
<line x1="709.4" y1="748.6" x2="709.4" y2="751.4" stroke="#282828" stroke-width="1.3"/>
<line x1="726.0" y1="1062.9" x2="726.0" y2="1057.4" stroke="#282828" stroke-width="1.3"/>
<line x1="726.0" y1="748.6" x2="726.0" y2="754.1" stroke="#282828" stroke-width="1.3"/>
<text x="477.0" y="1079.6" text-anchor="middle" class="t">1900</text>
<text x="560.0" y="1079.6" text-anchor="middle" class="t">1950</text>
<text x="643.0" y="1079.6" text-anchor="middle" class="t">2000</text>
<text x="726.0" y="1079.6" text-anchor="middle" class="t">2050</text>
<text x="406.6" y="755.7" text-anchor="end" class="t">2</text>
<text x="406.6" y="858.0" text-anchor="end" class="t">1</text>
<text x="406.6" y="962.7" text-anchor="end" class="t">0</text>
<text x="406.6" y="1063.5" text-anchor="end" class="t">-1</text>
<line x1="441.1" y1="779.8000000000001" x2="458.20000000000005" y2="779.8000000000001" stroke="#00ff00" stroke-width="2.4"/>
<line x1="441.1" y1="793.1" x2="458.20000000000005" y2="793.1" stroke="#303030" stroke-width="3"/>
<text x="465.40000000000003" y="784.3000000000001" class="l">IPSL-CM5A-LR</text>
<text x="465.40000000000003" y="797.8000000000001" class="l">Multi-model average</text>
</svg>
</body></html>
